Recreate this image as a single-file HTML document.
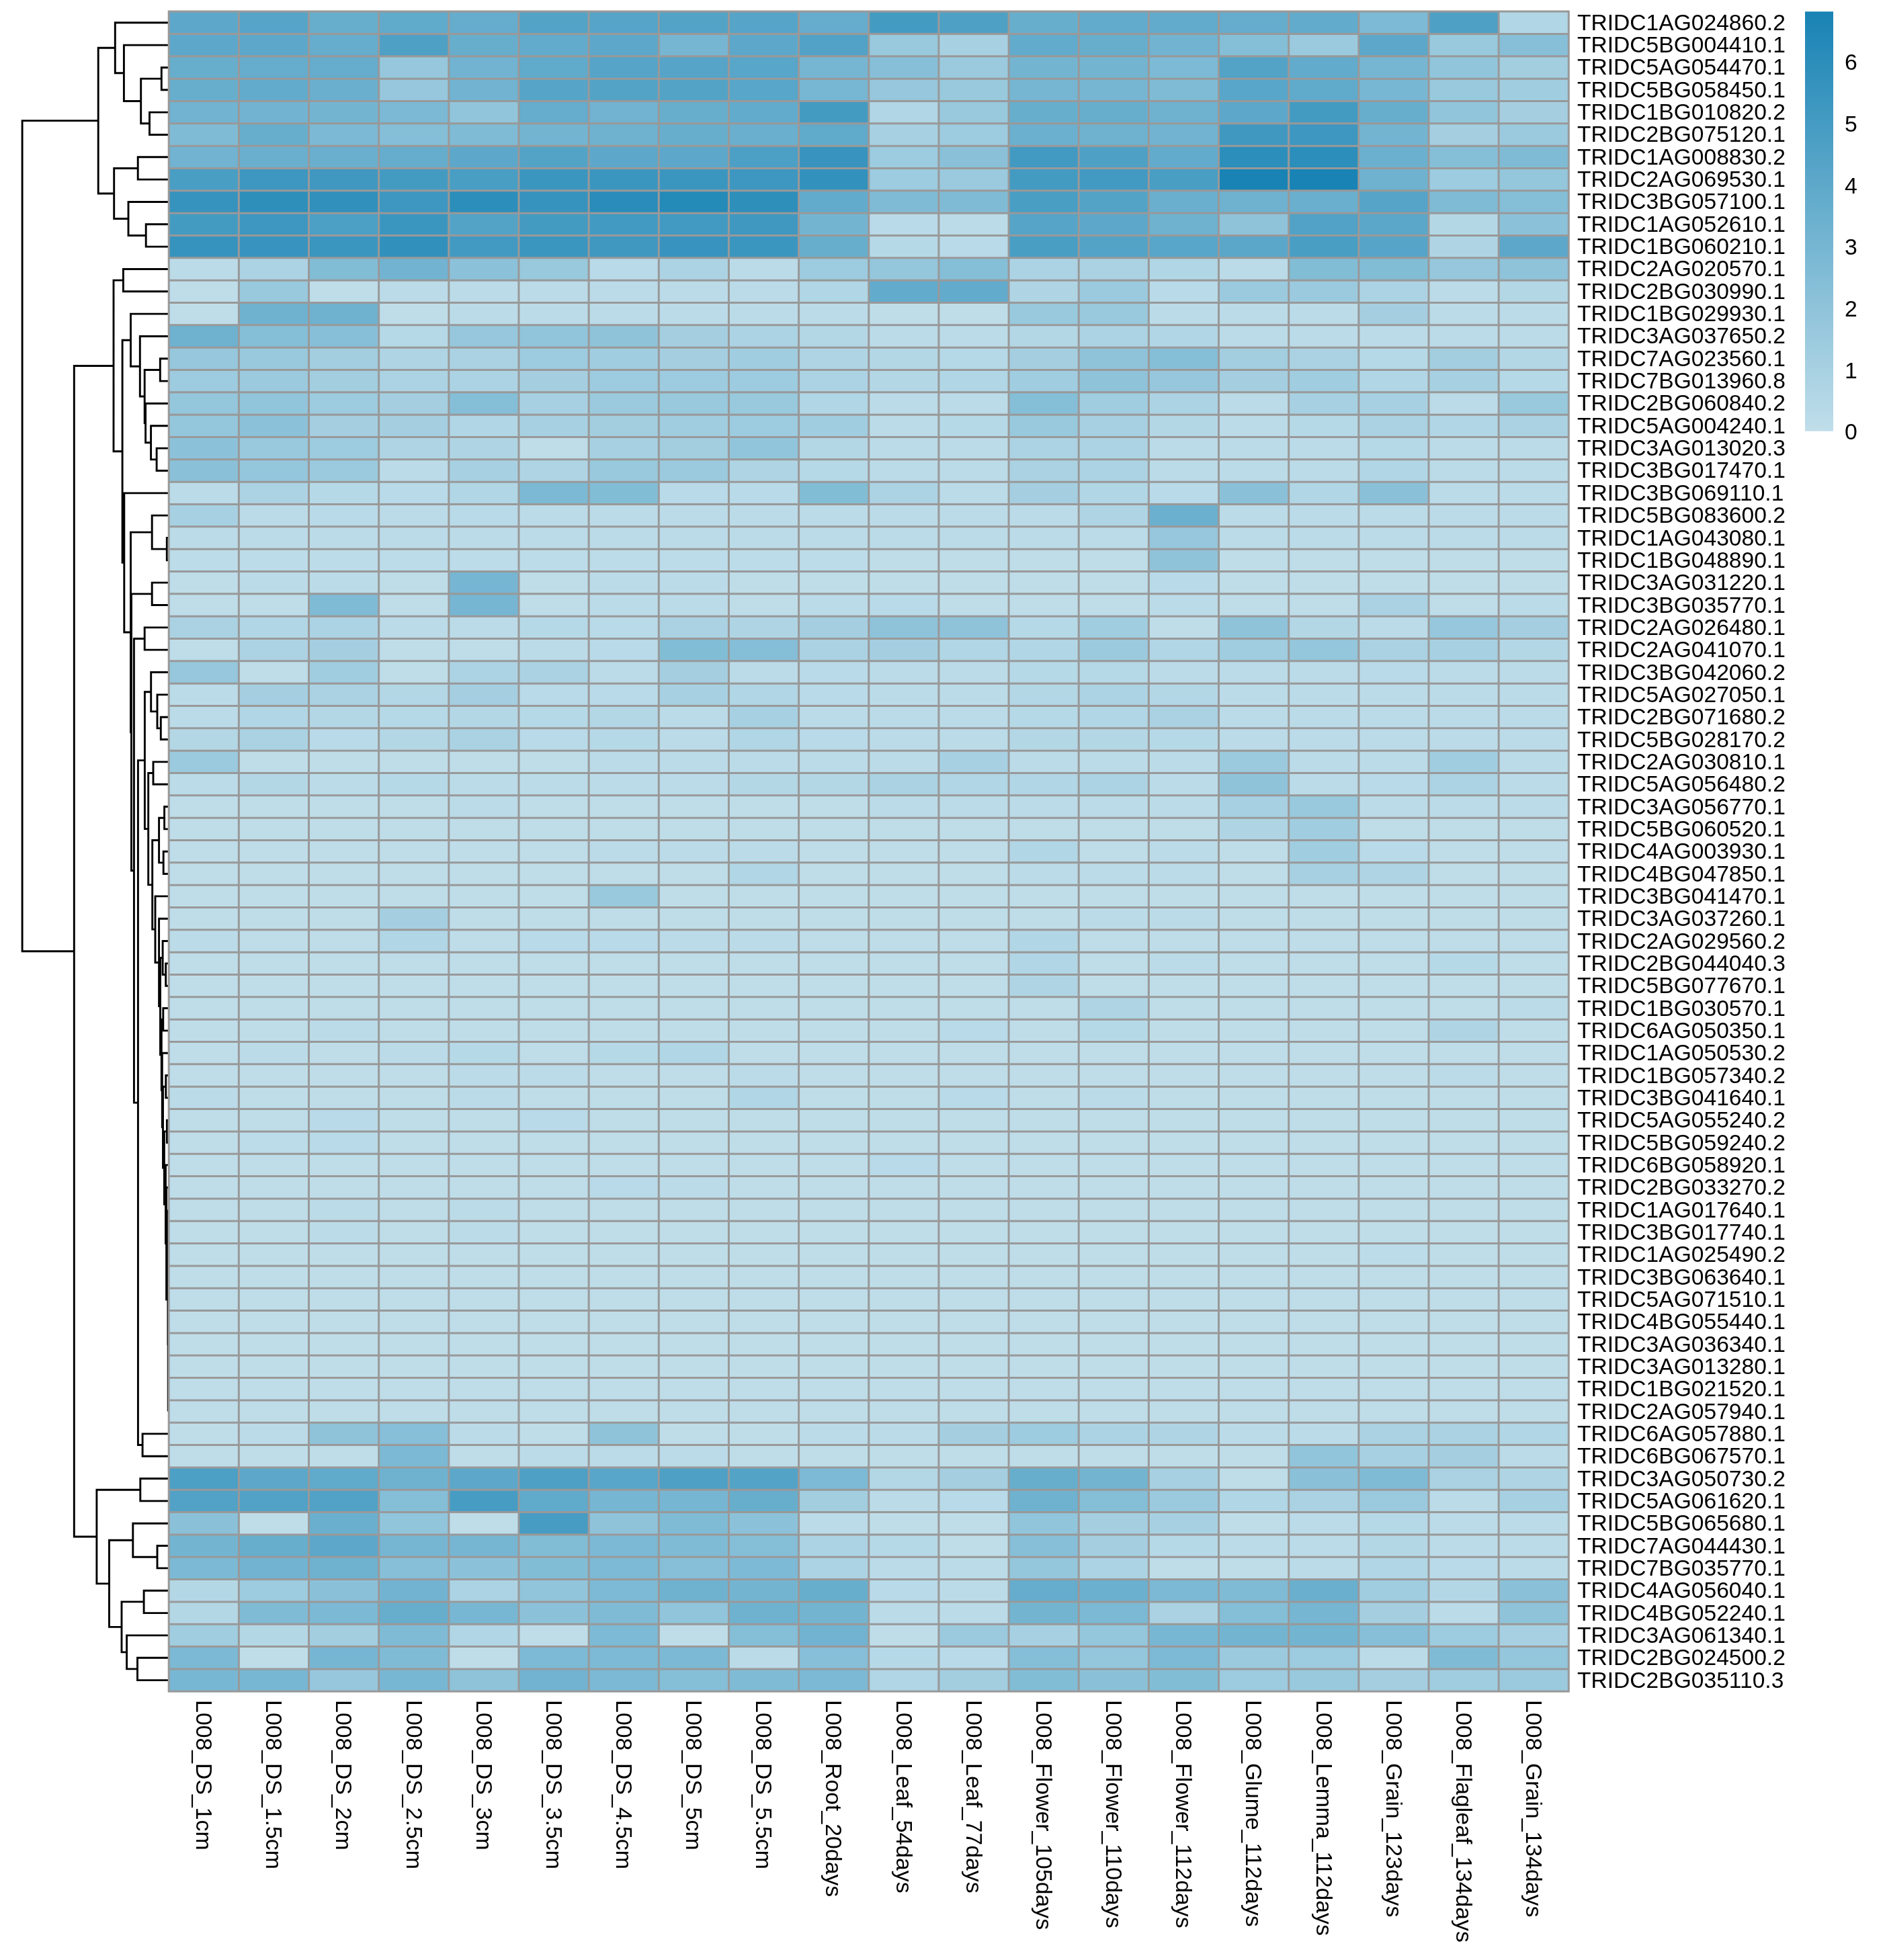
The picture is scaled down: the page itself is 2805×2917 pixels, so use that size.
<!DOCTYPE html><html><head><meta charset="utf-8"><style>html,body{margin:0;padding:0;background:#fff;}svg{display:block;}text{font-family:"Liberation Sans",sans-serif;fill:#000;}svg{will-change:transform;}</style></head><body>
<svg width="2805" height="2917" viewBox="0 0 2805 2917">
<path d="M146.20 179.63H33.10V1415.75H110.30M171.30 71.29H146.20V287.97H169.70M250.00 33.79H171.30V108.80H184.40M250.00 67.13H184.40V150.47H209.70M240.30 117.13H209.70V183.80H222.50M250.00 100.46H240.30V133.80H250.00M250.00 167.13H222.50V200.47H250.00M205.20 250.47H169.70V325.47H191.00M250.00 233.80H205.20V267.14H250.00M250.00 300.47H191.00V350.48H217.20M250.00 333.81H217.20V367.14H250.00M169.00 544.48H110.30V2287.03H143.90M183.40 417.14H169.00V671.81H182.10M250.00 400.48H183.40V433.81H250.00M194.50 506.21H182.10V837.41H184.80M250.00 467.15H194.50V545.28H208.30M250.00 500.48H208.30V590.07H215.20M238.30 550.49H215.20V629.66H216.60M250.00 533.82H238.30V567.15H250.00M250.00 600.49H216.60V658.82H224.60M250.00 633.82H224.60V683.83H233.10M250.00 667.16H233.10V700.49H250.00M250.00 733.83H184.80V940.99H194.50M226.20 792.16H194.50V1089.82H195.50M250.00 767.16H226.20V817.16H248.30M250.00 800.50H248.30V833.83H250.00M226.20 883.84H195.50V1295.81H199.40M250.00 867.17H226.20V900.50H250.00M215.20 950.50H199.40V1641.12H205.40M250.00 933.84H215.20V967.17H250.00M215.40 1131.67H205.40V2150.57H212.10M224.70 1029.68H215.40V1233.67H220.70M250.00 1000.51H224.70V1058.84H234.00M250.00 1033.84H234.00V1083.85H239.30M250.00 1067.18H239.30V1100.51H250.00M228.00 1150.52H220.70V1316.83H226.70M250.00 1133.85H228.00V1167.18H250.00M236.60 1250.52H226.70V1383.14H231.00M244.60 1217.18H236.60V1283.86H243.20M250.00 1200.52H244.60V1233.85H250.00M250.00 1267.19H243.20V1300.52H250.00M250.00 1333.86H231.00V1432.43H236.60M250.00 1367.19H236.60V1497.67H238.50M242.10 1425.53H238.50V1569.81H240.30M250.00 1400.53H242.10V1450.53H246.70M250.00 1433.86H246.70V1467.20H250.00M242.80 1517.20H240.30V1622.42H241.30M250.00 1500.53H242.80V1533.87H250.00M250.00 1567.20H241.30V1677.63H242.50M246.80 1617.20H242.50V1738.06H244.40M250.00 1600.54H246.80V1633.87H250.00M248.40 1683.88H244.40V1792.24H246.50M250.00 1667.21H248.40V1700.54H250.00M250.00 1733.88H246.50V1850.61H247.60M250.00 1767.21H247.60V1934.00H249.90M250.20 1829.72H249.90V2000.56H250.20M250.00 1800.55H250.20V1858.88H250.20M250.00 1833.88H250.20V1883.88H250.20M250.00 1867.22H250.20V1900.55H250.00M250.20 1950.56H250.20V2050.56H250.20M250.00 1933.89H250.20V1967.22H250.00M250.20 2017.23H250.20V2083.89H250.20M250.00 2000.56H250.20V2033.89H250.00M250.00 2067.23H250.20V2100.56H250.00M250.00 2133.90H212.10V2167.23H250.00M208.80 2217.24H143.90V2356.83H162.50M250.00 2200.57H208.80V2233.90H250.00M197.80 2292.24H162.50V2421.41H181.00M250.00 2267.24H197.80V2317.24H234.00M250.00 2300.57H234.00V2333.91H250.00M214.10 2383.91H181.00V2458.91H188.60M250.00 2367.24H214.10V2400.58H250.00M250.00 2433.91H188.60V2483.91H204.50M250.00 2467.25H204.50V2500.58H250.00" stroke="#000" stroke-width="2.9" fill="none" stroke-linejoin="miter" stroke-linecap="butt"/>
<rect x="251.20" y="17.12" width="104.16" height="33.34" fill="#5da8ca"/>
<rect x="355.36" y="17.12" width="104.16" height="33.34" fill="#56a4c8"/>
<rect x="459.51" y="17.12" width="104.16" height="33.34" fill="#67aecd"/>
<rect x="563.66" y="17.12" width="104.16" height="33.34" fill="#60aacb"/>
<rect x="667.82" y="17.12" width="104.16" height="33.34" fill="#65accd"/>
<rect x="771.97" y="17.12" width="104.16" height="33.34" fill="#53a3c7"/>
<rect x="876.13" y="17.12" width="104.16" height="33.34" fill="#56a4c8"/>
<rect x="980.29" y="17.12" width="104.16" height="33.34" fill="#53a3c7"/>
<rect x="1084.44" y="17.12" width="104.16" height="33.34" fill="#56a4c8"/>
<rect x="1188.60" y="17.12" width="104.16" height="33.34" fill="#65accd"/>
<rect x="1292.75" y="17.12" width="104.16" height="33.34" fill="#449bc2"/>
<rect x="1396.90" y="17.12" width="104.16" height="33.34" fill="#4ea0c5"/>
<rect x="1501.06" y="17.12" width="104.16" height="33.34" fill="#67aecd"/>
<rect x="1605.22" y="17.12" width="104.16" height="33.34" fill="#62abcc"/>
<rect x="1709.37" y="17.12" width="104.16" height="33.34" fill="#62abcc"/>
<rect x="1813.53" y="17.12" width="104.16" height="33.34" fill="#65accd"/>
<rect x="1917.68" y="17.12" width="104.16" height="33.34" fill="#62abcc"/>
<rect x="2021.84" y="17.12" width="104.16" height="33.34" fill="#7dbad5"/>
<rect x="2125.99" y="17.12" width="104.16" height="33.34" fill="#4ea0c5"/>
<rect x="2230.14" y="17.12" width="104.16" height="33.34" fill="#b1d6e5"/>
<rect x="251.20" y="50.46" width="104.16" height="33.34" fill="#5da8ca"/>
<rect x="355.36" y="50.46" width="104.16" height="33.34" fill="#5da8ca"/>
<rect x="459.51" y="50.46" width="104.16" height="33.34" fill="#65accd"/>
<rect x="563.66" y="50.46" width="104.16" height="33.34" fill="#4ea0c5"/>
<rect x="667.82" y="50.46" width="104.16" height="33.34" fill="#67aecd"/>
<rect x="771.97" y="50.46" width="104.16" height="33.34" fill="#62abcc"/>
<rect x="876.13" y="50.46" width="104.16" height="33.34" fill="#5da8ca"/>
<rect x="980.29" y="50.46" width="104.16" height="33.34" fill="#76b6d2"/>
<rect x="1084.44" y="50.46" width="104.16" height="33.34" fill="#5da8ca"/>
<rect x="1188.60" y="50.46" width="104.16" height="33.34" fill="#51a2c6"/>
<rect x="1292.75" y="50.46" width="104.16" height="33.34" fill="#98c9dd"/>
<rect x="1396.90" y="50.46" width="104.16" height="33.34" fill="#a7d1e2"/>
<rect x="1501.06" y="50.46" width="104.16" height="33.34" fill="#62abcc"/>
<rect x="1605.22" y="50.46" width="104.16" height="33.34" fill="#67aecd"/>
<rect x="1709.37" y="50.46" width="104.16" height="33.34" fill="#71b3d1"/>
<rect x="1813.53" y="50.46" width="104.16" height="33.34" fill="#85bed7"/>
<rect x="1917.68" y="50.46" width="104.16" height="33.34" fill="#9bcade"/>
<rect x="2021.84" y="50.46" width="104.16" height="33.34" fill="#5da8ca"/>
<rect x="2125.99" y="50.46" width="104.16" height="33.34" fill="#98c9dd"/>
<rect x="2230.14" y="50.46" width="104.16" height="33.34" fill="#87bfd8"/>
<rect x="251.20" y="83.80" width="104.16" height="33.34" fill="#67aecd"/>
<rect x="355.36" y="83.80" width="104.16" height="33.34" fill="#65accd"/>
<rect x="459.51" y="83.80" width="104.16" height="33.34" fill="#65accd"/>
<rect x="563.66" y="83.80" width="104.16" height="33.34" fill="#96c7dc"/>
<rect x="667.82" y="83.80" width="104.16" height="33.34" fill="#71b3d1"/>
<rect x="771.97" y="83.80" width="104.16" height="33.34" fill="#60aacb"/>
<rect x="876.13" y="83.80" width="104.16" height="33.34" fill="#56a4c8"/>
<rect x="980.29" y="83.80" width="104.16" height="33.34" fill="#56a4c8"/>
<rect x="1084.44" y="83.80" width="104.16" height="33.34" fill="#58a6c9"/>
<rect x="1188.60" y="83.80" width="104.16" height="33.34" fill="#76b6d2"/>
<rect x="1292.75" y="83.80" width="104.16" height="33.34" fill="#87bfd8"/>
<rect x="1396.90" y="83.80" width="104.16" height="33.34" fill="#9bcade"/>
<rect x="1501.06" y="83.80" width="104.16" height="33.34" fill="#73b5d1"/>
<rect x="1605.22" y="83.80" width="104.16" height="33.34" fill="#73b5d1"/>
<rect x="1709.37" y="83.80" width="104.16" height="33.34" fill="#7dbad5"/>
<rect x="1813.53" y="83.80" width="104.16" height="33.34" fill="#53a3c7"/>
<rect x="1917.68" y="83.80" width="104.16" height="33.34" fill="#62abcc"/>
<rect x="2021.84" y="83.80" width="104.16" height="33.34" fill="#76b6d2"/>
<rect x="2125.99" y="83.80" width="104.16" height="33.34" fill="#91c5db"/>
<rect x="2230.14" y="83.80" width="104.16" height="33.34" fill="#a2cee0"/>
<rect x="251.20" y="117.13" width="104.16" height="33.34" fill="#67aecd"/>
<rect x="355.36" y="117.13" width="104.16" height="33.34" fill="#62abcc"/>
<rect x="459.51" y="117.13" width="104.16" height="33.34" fill="#6aafce"/>
<rect x="563.66" y="117.13" width="104.16" height="33.34" fill="#96c7dc"/>
<rect x="667.82" y="117.13" width="104.16" height="33.34" fill="#71b3d1"/>
<rect x="771.97" y="117.13" width="104.16" height="33.34" fill="#56a4c8"/>
<rect x="876.13" y="117.13" width="104.16" height="33.34" fill="#53a3c7"/>
<rect x="980.29" y="117.13" width="104.16" height="33.34" fill="#53a3c7"/>
<rect x="1084.44" y="117.13" width="104.16" height="33.34" fill="#58a6c9"/>
<rect x="1188.60" y="117.13" width="104.16" height="33.34" fill="#78b7d3"/>
<rect x="1292.75" y="117.13" width="104.16" height="33.34" fill="#96c7dc"/>
<rect x="1396.90" y="117.13" width="104.16" height="33.34" fill="#98c9dd"/>
<rect x="1501.06" y="117.13" width="104.16" height="33.34" fill="#76b6d2"/>
<rect x="1605.22" y="117.13" width="104.16" height="33.34" fill="#76b6d2"/>
<rect x="1709.37" y="117.13" width="104.16" height="33.34" fill="#80bbd5"/>
<rect x="1813.53" y="117.13" width="104.16" height="33.34" fill="#58a6c9"/>
<rect x="1917.68" y="117.13" width="104.16" height="33.34" fill="#60aacb"/>
<rect x="2021.84" y="117.13" width="104.16" height="33.34" fill="#78b7d3"/>
<rect x="2125.99" y="117.13" width="104.16" height="33.34" fill="#98c9dd"/>
<rect x="2230.14" y="117.13" width="104.16" height="33.34" fill="#a0cde0"/>
<rect x="251.20" y="150.47" width="104.16" height="33.34" fill="#71b3d1"/>
<rect x="355.36" y="150.47" width="104.16" height="33.34" fill="#71b3d1"/>
<rect x="459.51" y="150.47" width="104.16" height="33.34" fill="#73b5d1"/>
<rect x="563.66" y="150.47" width="104.16" height="33.34" fill="#7bb9d4"/>
<rect x="667.82" y="150.47" width="104.16" height="33.34" fill="#91c5db"/>
<rect x="771.97" y="150.47" width="104.16" height="33.34" fill="#65accd"/>
<rect x="876.13" y="150.47" width="104.16" height="33.34" fill="#71b3d1"/>
<rect x="980.29" y="150.47" width="104.16" height="33.34" fill="#67aecd"/>
<rect x="1084.44" y="150.47" width="104.16" height="33.34" fill="#62abcc"/>
<rect x="1188.60" y="150.47" width="104.16" height="33.34" fill="#449bc2"/>
<rect x="1292.75" y="150.47" width="104.16" height="33.34" fill="#b1d6e5"/>
<rect x="1396.90" y="150.47" width="104.16" height="33.34" fill="#98c9dd"/>
<rect x="1501.06" y="150.47" width="104.16" height="33.34" fill="#67aecd"/>
<rect x="1605.22" y="150.47" width="104.16" height="33.34" fill="#67aecd"/>
<rect x="1709.37" y="150.47" width="104.16" height="33.34" fill="#6eb2d0"/>
<rect x="1813.53" y="150.47" width="104.16" height="33.34" fill="#5da8ca"/>
<rect x="1917.68" y="150.47" width="104.16" height="33.34" fill="#449bc2"/>
<rect x="2021.84" y="150.47" width="104.16" height="33.34" fill="#67aecd"/>
<rect x="2125.99" y="150.47" width="104.16" height="33.34" fill="#91c5db"/>
<rect x="2230.14" y="150.47" width="104.16" height="33.34" fill="#a5cfe1"/>
<rect x="251.20" y="183.80" width="104.16" height="33.34" fill="#80bbd5"/>
<rect x="355.36" y="183.80" width="104.16" height="33.34" fill="#67aecd"/>
<rect x="459.51" y="183.80" width="104.16" height="33.34" fill="#7bb9d4"/>
<rect x="563.66" y="183.80" width="104.16" height="33.34" fill="#85bed7"/>
<rect x="667.82" y="183.80" width="104.16" height="33.34" fill="#80bbd5"/>
<rect x="771.97" y="183.80" width="104.16" height="33.34" fill="#73b5d1"/>
<rect x="876.13" y="183.80" width="104.16" height="33.34" fill="#6eb2d0"/>
<rect x="980.29" y="183.80" width="104.16" height="33.34" fill="#67aecd"/>
<rect x="1084.44" y="183.80" width="104.16" height="33.34" fill="#6aafce"/>
<rect x="1188.60" y="183.80" width="104.16" height="33.34" fill="#60aacb"/>
<rect x="1292.75" y="183.80" width="104.16" height="33.34" fill="#a7d1e2"/>
<rect x="1396.90" y="183.80" width="104.16" height="33.34" fill="#9dcbdf"/>
<rect x="1501.06" y="183.80" width="104.16" height="33.34" fill="#6cb0cf"/>
<rect x="1605.22" y="183.80" width="104.16" height="33.34" fill="#6eb2d0"/>
<rect x="1709.37" y="183.80" width="104.16" height="33.34" fill="#71b3d1"/>
<rect x="1813.53" y="183.80" width="104.16" height="33.34" fill="#4098c1"/>
<rect x="1917.68" y="183.80" width="104.16" height="33.34" fill="#3d97c0"/>
<rect x="2021.84" y="183.80" width="104.16" height="33.34" fill="#73b5d1"/>
<rect x="2125.99" y="183.80" width="104.16" height="33.34" fill="#a5cfe1"/>
<rect x="2230.14" y="183.80" width="104.16" height="33.34" fill="#9bcade"/>
<rect x="251.20" y="217.13" width="104.16" height="33.34" fill="#71b3d1"/>
<rect x="355.36" y="217.13" width="104.16" height="33.34" fill="#6aafce"/>
<rect x="459.51" y="217.13" width="104.16" height="33.34" fill="#6aafce"/>
<rect x="563.66" y="217.13" width="104.16" height="33.34" fill="#65accd"/>
<rect x="667.82" y="217.13" width="104.16" height="33.34" fill="#5da8ca"/>
<rect x="771.97" y="217.13" width="104.16" height="33.34" fill="#53a3c7"/>
<rect x="876.13" y="217.13" width="104.16" height="33.34" fill="#5da8ca"/>
<rect x="980.29" y="217.13" width="104.16" height="33.34" fill="#5da8ca"/>
<rect x="1084.44" y="217.13" width="104.16" height="33.34" fill="#4c9fc5"/>
<rect x="1188.60" y="217.13" width="104.16" height="33.34" fill="#3894be"/>
<rect x="1292.75" y="217.13" width="104.16" height="33.34" fill="#9dcbdf"/>
<rect x="1396.90" y="217.13" width="104.16" height="33.34" fill="#8ac1d9"/>
<rect x="1501.06" y="217.13" width="104.16" height="33.34" fill="#429ac2"/>
<rect x="1605.22" y="217.13" width="104.16" height="33.34" fill="#4ea0c5"/>
<rect x="1709.37" y="217.13" width="104.16" height="33.34" fill="#62abcc"/>
<rect x="1813.53" y="217.13" width="104.16" height="33.34" fill="#2c8eba"/>
<rect x="1917.68" y="217.13" width="104.16" height="33.34" fill="#2c8eba"/>
<rect x="2021.84" y="217.13" width="104.16" height="33.34" fill="#6cb0cf"/>
<rect x="2125.99" y="217.13" width="104.16" height="33.34" fill="#85bed7"/>
<rect x="2230.14" y="217.13" width="104.16" height="33.34" fill="#80bbd5"/>
<rect x="251.20" y="250.47" width="104.16" height="33.34" fill="#499ec4"/>
<rect x="355.36" y="250.47" width="104.16" height="33.34" fill="#3d97c0"/>
<rect x="459.51" y="250.47" width="104.16" height="33.34" fill="#4098c1"/>
<rect x="563.66" y="250.47" width="104.16" height="33.34" fill="#449bc2"/>
<rect x="667.82" y="250.47" width="104.16" height="33.34" fill="#499ec4"/>
<rect x="771.97" y="250.47" width="104.16" height="33.34" fill="#3b96bf"/>
<rect x="876.13" y="250.47" width="104.16" height="33.34" fill="#3b96bf"/>
<rect x="980.29" y="250.47" width="104.16" height="33.34" fill="#3b96bf"/>
<rect x="1084.44" y="250.47" width="104.16" height="33.34" fill="#3d97c0"/>
<rect x="1188.60" y="250.47" width="104.16" height="33.34" fill="#3392bd"/>
<rect x="1292.75" y="250.47" width="104.16" height="33.34" fill="#9dcbdf"/>
<rect x="1396.90" y="250.47" width="104.16" height="33.34" fill="#9bcade"/>
<rect x="1501.06" y="250.47" width="104.16" height="33.34" fill="#449bc2"/>
<rect x="1605.22" y="250.47" width="104.16" height="33.34" fill="#429ac2"/>
<rect x="1709.37" y="250.47" width="104.16" height="33.34" fill="#499ec4"/>
<rect x="1813.53" y="250.47" width="104.16" height="33.34" fill="#1883b4"/>
<rect x="1917.68" y="250.47" width="104.16" height="33.34" fill="#1883b4"/>
<rect x="2021.84" y="250.47" width="104.16" height="33.34" fill="#6eb2d0"/>
<rect x="2125.99" y="250.47" width="104.16" height="33.34" fill="#9dcbdf"/>
<rect x="2230.14" y="250.47" width="104.16" height="33.34" fill="#94c6dc"/>
<rect x="251.20" y="283.81" width="104.16" height="33.34" fill="#3693be"/>
<rect x="355.36" y="283.81" width="104.16" height="33.34" fill="#2e8fbb"/>
<rect x="459.51" y="283.81" width="104.16" height="33.34" fill="#3190bc"/>
<rect x="563.66" y="283.81" width="104.16" height="33.34" fill="#3d97c0"/>
<rect x="667.82" y="283.81" width="104.16" height="33.34" fill="#2c8eba"/>
<rect x="771.97" y="283.81" width="104.16" height="33.34" fill="#3693be"/>
<rect x="876.13" y="283.81" width="104.16" height="33.34" fill="#298cba"/>
<rect x="980.29" y="283.81" width="104.16" height="33.34" fill="#248ab8"/>
<rect x="1084.44" y="283.81" width="104.16" height="33.34" fill="#2e8fbb"/>
<rect x="1188.60" y="283.81" width="104.16" height="33.34" fill="#62abcc"/>
<rect x="1292.75" y="283.81" width="104.16" height="33.34" fill="#80bbd5"/>
<rect x="1396.90" y="283.81" width="104.16" height="33.34" fill="#80bbd5"/>
<rect x="1501.06" y="283.81" width="104.16" height="33.34" fill="#499ec4"/>
<rect x="1605.22" y="283.81" width="104.16" height="33.34" fill="#53a3c7"/>
<rect x="1709.37" y="283.81" width="104.16" height="33.34" fill="#6aafce"/>
<rect x="1813.53" y="283.81" width="104.16" height="33.34" fill="#6eb2d0"/>
<rect x="1917.68" y="283.81" width="104.16" height="33.34" fill="#6aafce"/>
<rect x="2021.84" y="283.81" width="104.16" height="33.34" fill="#56a4c8"/>
<rect x="2125.99" y="283.81" width="104.16" height="33.34" fill="#80bbd5"/>
<rect x="2230.14" y="283.81" width="104.16" height="33.34" fill="#85bed7"/>
<rect x="251.20" y="317.14" width="104.16" height="33.34" fill="#449bc2"/>
<rect x="355.36" y="317.14" width="104.16" height="33.34" fill="#3d97c0"/>
<rect x="459.51" y="317.14" width="104.16" height="33.34" fill="#4c9fc5"/>
<rect x="563.66" y="317.14" width="104.16" height="33.34" fill="#3b96bf"/>
<rect x="667.82" y="317.14" width="104.16" height="33.34" fill="#53a3c7"/>
<rect x="771.97" y="317.14" width="104.16" height="33.34" fill="#449bc2"/>
<rect x="876.13" y="317.14" width="104.16" height="33.34" fill="#429ac2"/>
<rect x="980.29" y="317.14" width="104.16" height="33.34" fill="#429ac2"/>
<rect x="1084.44" y="317.14" width="104.16" height="33.34" fill="#4098c1"/>
<rect x="1188.60" y="317.14" width="104.16" height="33.34" fill="#73b5d1"/>
<rect x="1292.75" y="317.14" width="104.16" height="33.34" fill="#b9dae8"/>
<rect x="1396.90" y="317.14" width="104.16" height="33.34" fill="#bbdbe8"/>
<rect x="1501.06" y="317.14" width="104.16" height="33.34" fill="#56a4c8"/>
<rect x="1605.22" y="317.14" width="104.16" height="33.34" fill="#5da8ca"/>
<rect x="1709.37" y="317.14" width="104.16" height="33.34" fill="#6eb2d0"/>
<rect x="1813.53" y="317.14" width="104.16" height="33.34" fill="#8fc3da"/>
<rect x="1917.68" y="317.14" width="104.16" height="33.34" fill="#51a2c6"/>
<rect x="2021.84" y="317.14" width="104.16" height="33.34" fill="#5ba7c9"/>
<rect x="2125.99" y="317.14" width="104.16" height="33.34" fill="#b4d7e6"/>
<rect x="2230.14" y="317.14" width="104.16" height="33.34" fill="#8cc2d9"/>
<rect x="251.20" y="350.48" width="104.16" height="33.34" fill="#3693be"/>
<rect x="355.36" y="350.48" width="104.16" height="33.34" fill="#3894be"/>
<rect x="459.51" y="350.48" width="104.16" height="33.34" fill="#3b96bf"/>
<rect x="563.66" y="350.48" width="104.16" height="33.34" fill="#3190bc"/>
<rect x="667.82" y="350.48" width="104.16" height="33.34" fill="#429ac2"/>
<rect x="771.97" y="350.48" width="104.16" height="33.34" fill="#3b96bf"/>
<rect x="876.13" y="350.48" width="104.16" height="33.34" fill="#4098c1"/>
<rect x="980.29" y="350.48" width="104.16" height="33.34" fill="#3894be"/>
<rect x="1084.44" y="350.48" width="104.16" height="33.34" fill="#3b96bf"/>
<rect x="1188.60" y="350.48" width="104.16" height="33.34" fill="#67aecd"/>
<rect x="1292.75" y="350.48" width="104.16" height="33.34" fill="#b6d9e7"/>
<rect x="1396.90" y="350.48" width="104.16" height="33.34" fill="#b9dae8"/>
<rect x="1501.06" y="350.48" width="104.16" height="33.34" fill="#499ec4"/>
<rect x="1605.22" y="350.48" width="104.16" height="33.34" fill="#53a3c7"/>
<rect x="1709.37" y="350.48" width="104.16" height="33.34" fill="#58a6c9"/>
<rect x="1813.53" y="350.48" width="104.16" height="33.34" fill="#5ba7c9"/>
<rect x="1917.68" y="350.48" width="104.16" height="33.34" fill="#499ec4"/>
<rect x="2021.84" y="350.48" width="104.16" height="33.34" fill="#56a4c8"/>
<rect x="2125.99" y="350.48" width="104.16" height="33.34" fill="#afd5e4"/>
<rect x="2230.14" y="350.48" width="104.16" height="33.34" fill="#5da8ca"/>
<rect x="251.20" y="383.81" width="104.16" height="33.34" fill="#bbdbe8"/>
<rect x="355.36" y="383.81" width="104.16" height="33.34" fill="#acd3e4"/>
<rect x="459.51" y="383.81" width="104.16" height="33.34" fill="#82bdd6"/>
<rect x="563.66" y="383.81" width="104.16" height="33.34" fill="#71b3d1"/>
<rect x="667.82" y="383.81" width="104.16" height="33.34" fill="#8cc2d9"/>
<rect x="771.97" y="383.81" width="104.16" height="33.34" fill="#98c9dd"/>
<rect x="876.13" y="383.81" width="104.16" height="33.34" fill="#b9dae8"/>
<rect x="980.29" y="383.81" width="104.16" height="33.34" fill="#acd3e4"/>
<rect x="1084.44" y="383.81" width="104.16" height="33.34" fill="#bbdbe8"/>
<rect x="1188.60" y="383.81" width="104.16" height="33.34" fill="#9dcbdf"/>
<rect x="1292.75" y="383.81" width="104.16" height="33.34" fill="#94c6dc"/>
<rect x="1396.90" y="383.81" width="104.16" height="33.34" fill="#85bed7"/>
<rect x="1501.06" y="383.81" width="104.16" height="33.34" fill="#acd3e4"/>
<rect x="1605.22" y="383.81" width="104.16" height="33.34" fill="#aad2e3"/>
<rect x="1709.37" y="383.81" width="104.16" height="33.34" fill="#b1d6e5"/>
<rect x="1813.53" y="383.81" width="104.16" height="33.34" fill="#bbdbe8"/>
<rect x="1917.68" y="383.81" width="104.16" height="33.34" fill="#82bdd6"/>
<rect x="2021.84" y="383.81" width="104.16" height="33.34" fill="#82bdd6"/>
<rect x="2125.99" y="383.81" width="104.16" height="33.34" fill="#96c7dc"/>
<rect x="2230.14" y="383.81" width="104.16" height="33.34" fill="#8fc3da"/>
<rect x="251.20" y="417.14" width="104.16" height="33.34" fill="#bedde9"/>
<rect x="355.36" y="417.14" width="104.16" height="33.34" fill="#98c9dd"/>
<rect x="459.51" y="417.14" width="104.16" height="33.34" fill="#bedde9"/>
<rect x="563.66" y="417.14" width="104.16" height="33.34" fill="#bbdbe8"/>
<rect x="667.82" y="417.14" width="104.16" height="33.34" fill="#bbdbe8"/>
<rect x="771.97" y="417.14" width="104.16" height="33.34" fill="#bbdbe8"/>
<rect x="876.13" y="417.14" width="104.16" height="33.34" fill="#bbdbe8"/>
<rect x="980.29" y="417.14" width="104.16" height="33.34" fill="#bbdbe8"/>
<rect x="1084.44" y="417.14" width="104.16" height="33.34" fill="#bbdbe8"/>
<rect x="1188.60" y="417.14" width="104.16" height="33.34" fill="#b1d6e5"/>
<rect x="1292.75" y="417.14" width="104.16" height="33.34" fill="#62abcc"/>
<rect x="1396.90" y="417.14" width="104.16" height="33.34" fill="#62abcc"/>
<rect x="1501.06" y="417.14" width="104.16" height="33.34" fill="#afd5e4"/>
<rect x="1605.22" y="417.14" width="104.16" height="33.34" fill="#9bcade"/>
<rect x="1709.37" y="417.14" width="104.16" height="33.34" fill="#b9dae8"/>
<rect x="1813.53" y="417.14" width="104.16" height="33.34" fill="#9bcade"/>
<rect x="1917.68" y="417.14" width="104.16" height="33.34" fill="#9bcade"/>
<rect x="2021.84" y="417.14" width="104.16" height="33.34" fill="#acd3e4"/>
<rect x="2125.99" y="417.14" width="104.16" height="33.34" fill="#bbdbe8"/>
<rect x="2230.14" y="417.14" width="104.16" height="33.34" fill="#b4d7e6"/>
<rect x="251.20" y="450.48" width="104.16" height="33.34" fill="#bedde9"/>
<rect x="355.36" y="450.48" width="104.16" height="33.34" fill="#6eb2d0"/>
<rect x="459.51" y="450.48" width="104.16" height="33.34" fill="#6eb2d0"/>
<rect x="563.66" y="450.48" width="104.16" height="33.34" fill="#bedde9"/>
<rect x="667.82" y="450.48" width="104.16" height="33.34" fill="#bbdbe8"/>
<rect x="771.97" y="450.48" width="104.16" height="33.34" fill="#bbdbe8"/>
<rect x="876.13" y="450.48" width="104.16" height="33.34" fill="#bbdbe8"/>
<rect x="980.29" y="450.48" width="104.16" height="33.34" fill="#bbdbe8"/>
<rect x="1084.44" y="450.48" width="104.16" height="33.34" fill="#bbdbe8"/>
<rect x="1188.60" y="450.48" width="104.16" height="33.34" fill="#bbdbe8"/>
<rect x="1292.75" y="450.48" width="104.16" height="33.34" fill="#bedde9"/>
<rect x="1396.90" y="450.48" width="104.16" height="33.34" fill="#bedde9"/>
<rect x="1501.06" y="450.48" width="104.16" height="33.34" fill="#98c9dd"/>
<rect x="1605.22" y="450.48" width="104.16" height="33.34" fill="#98c9dd"/>
<rect x="1709.37" y="450.48" width="104.16" height="33.34" fill="#bbdbe8"/>
<rect x="1813.53" y="450.48" width="104.16" height="33.34" fill="#bbdbe8"/>
<rect x="1917.68" y="450.48" width="104.16" height="33.34" fill="#bbdbe8"/>
<rect x="2021.84" y="450.48" width="104.16" height="33.34" fill="#a5cfe1"/>
<rect x="2125.99" y="450.48" width="104.16" height="33.34" fill="#bbdbe8"/>
<rect x="2230.14" y="450.48" width="104.16" height="33.34" fill="#bbdbe8"/>
<rect x="251.20" y="483.81" width="104.16" height="33.34" fill="#6eb2d0"/>
<rect x="355.36" y="483.81" width="104.16" height="33.34" fill="#85bed7"/>
<rect x="459.51" y="483.81" width="104.16" height="33.34" fill="#87bfd8"/>
<rect x="563.66" y="483.81" width="104.16" height="33.34" fill="#b6d9e7"/>
<rect x="667.82" y="483.81" width="104.16" height="33.34" fill="#96c7dc"/>
<rect x="771.97" y="483.81" width="104.16" height="33.34" fill="#91c5db"/>
<rect x="876.13" y="483.81" width="104.16" height="33.34" fill="#8fc3da"/>
<rect x="980.29" y="483.81" width="104.16" height="33.34" fill="#a5cfe1"/>
<rect x="1084.44" y="483.81" width="104.16" height="33.34" fill="#acd3e4"/>
<rect x="1188.60" y="483.81" width="104.16" height="33.34" fill="#b4d7e6"/>
<rect x="1292.75" y="483.81" width="104.16" height="33.34" fill="#bbdbe8"/>
<rect x="1396.90" y="483.81" width="104.16" height="33.34" fill="#bbdbe8"/>
<rect x="1501.06" y="483.81" width="104.16" height="33.34" fill="#b4d7e6"/>
<rect x="1605.22" y="483.81" width="104.16" height="33.34" fill="#acd3e4"/>
<rect x="1709.37" y="483.81" width="104.16" height="33.34" fill="#b1d6e5"/>
<rect x="1813.53" y="483.81" width="104.16" height="33.34" fill="#bbdbe8"/>
<rect x="1917.68" y="483.81" width="104.16" height="33.34" fill="#bbdbe8"/>
<rect x="2021.84" y="483.81" width="104.16" height="33.34" fill="#bbdbe8"/>
<rect x="2125.99" y="483.81" width="104.16" height="33.34" fill="#bbdbe8"/>
<rect x="2230.14" y="483.81" width="104.16" height="33.34" fill="#bbdbe8"/>
<rect x="251.20" y="517.15" width="104.16" height="33.34" fill="#96c7dc"/>
<rect x="355.36" y="517.15" width="104.16" height="33.34" fill="#98c9dd"/>
<rect x="459.51" y="517.15" width="104.16" height="33.34" fill="#a2cee0"/>
<rect x="563.66" y="517.15" width="104.16" height="33.34" fill="#afd5e4"/>
<rect x="667.82" y="517.15" width="104.16" height="33.34" fill="#aad2e3"/>
<rect x="771.97" y="517.15" width="104.16" height="33.34" fill="#9dcbdf"/>
<rect x="876.13" y="517.15" width="104.16" height="33.34" fill="#a0cde0"/>
<rect x="980.29" y="517.15" width="104.16" height="33.34" fill="#a5cfe1"/>
<rect x="1084.44" y="517.15" width="104.16" height="33.34" fill="#a0cde0"/>
<rect x="1188.60" y="517.15" width="104.16" height="33.34" fill="#afd5e4"/>
<rect x="1292.75" y="517.15" width="104.16" height="33.34" fill="#b4d7e6"/>
<rect x="1396.90" y="517.15" width="104.16" height="33.34" fill="#b6d9e7"/>
<rect x="1501.06" y="517.15" width="104.16" height="33.34" fill="#a5cfe1"/>
<rect x="1605.22" y="517.15" width="104.16" height="33.34" fill="#8fc3da"/>
<rect x="1709.37" y="517.15" width="104.16" height="33.34" fill="#85bed7"/>
<rect x="1813.53" y="517.15" width="104.16" height="33.34" fill="#a2cee0"/>
<rect x="1917.68" y="517.15" width="104.16" height="33.34" fill="#aad2e3"/>
<rect x="2021.84" y="517.15" width="104.16" height="33.34" fill="#b6d9e7"/>
<rect x="2125.99" y="517.15" width="104.16" height="33.34" fill="#a2cee0"/>
<rect x="2230.14" y="517.15" width="104.16" height="33.34" fill="#b4d7e6"/>
<rect x="251.20" y="550.49" width="104.16" height="33.34" fill="#9dcbdf"/>
<rect x="355.36" y="550.49" width="104.16" height="33.34" fill="#9bcade"/>
<rect x="459.51" y="550.49" width="104.16" height="33.34" fill="#a2cee0"/>
<rect x="563.66" y="550.49" width="104.16" height="33.34" fill="#acd3e4"/>
<rect x="667.82" y="550.49" width="104.16" height="33.34" fill="#acd3e4"/>
<rect x="771.97" y="550.49" width="104.16" height="33.34" fill="#a5cfe1"/>
<rect x="876.13" y="550.49" width="104.16" height="33.34" fill="#9dcbdf"/>
<rect x="980.29" y="550.49" width="104.16" height="33.34" fill="#9dcbdf"/>
<rect x="1084.44" y="550.49" width="104.16" height="33.34" fill="#9dcbdf"/>
<rect x="1188.60" y="550.49" width="104.16" height="33.34" fill="#acd3e4"/>
<rect x="1292.75" y="550.49" width="104.16" height="33.34" fill="#b4d7e6"/>
<rect x="1396.90" y="550.49" width="104.16" height="33.34" fill="#b1d6e5"/>
<rect x="1501.06" y="550.49" width="104.16" height="33.34" fill="#a0cde0"/>
<rect x="1605.22" y="550.49" width="104.16" height="33.34" fill="#8fc3da"/>
<rect x="1709.37" y="550.49" width="104.16" height="33.34" fill="#96c7dc"/>
<rect x="1813.53" y="550.49" width="104.16" height="33.34" fill="#a5cfe1"/>
<rect x="1917.68" y="550.49" width="104.16" height="33.34" fill="#a0cde0"/>
<rect x="2021.84" y="550.49" width="104.16" height="33.34" fill="#b1d6e5"/>
<rect x="2125.99" y="550.49" width="104.16" height="33.34" fill="#a7d1e2"/>
<rect x="2230.14" y="550.49" width="104.16" height="33.34" fill="#b6d9e7"/>
<rect x="251.20" y="583.82" width="104.16" height="33.34" fill="#94c6dc"/>
<rect x="355.36" y="583.82" width="104.16" height="33.34" fill="#91c5db"/>
<rect x="459.51" y="583.82" width="104.16" height="33.34" fill="#9dcbdf"/>
<rect x="563.66" y="583.82" width="104.16" height="33.34" fill="#a5cfe1"/>
<rect x="667.82" y="583.82" width="104.16" height="33.34" fill="#85bed7"/>
<rect x="771.97" y="583.82" width="104.16" height="33.34" fill="#a7d1e2"/>
<rect x="876.13" y="583.82" width="104.16" height="33.34" fill="#9bcade"/>
<rect x="980.29" y="583.82" width="104.16" height="33.34" fill="#98c9dd"/>
<rect x="1084.44" y="583.82" width="104.16" height="33.34" fill="#98c9dd"/>
<rect x="1188.60" y="583.82" width="104.16" height="33.34" fill="#b1d6e5"/>
<rect x="1292.75" y="583.82" width="104.16" height="33.34" fill="#bbdbe8"/>
<rect x="1396.90" y="583.82" width="104.16" height="33.34" fill="#bbdbe8"/>
<rect x="1501.06" y="583.82" width="104.16" height="33.34" fill="#85bed7"/>
<rect x="1605.22" y="583.82" width="104.16" height="33.34" fill="#a0cde0"/>
<rect x="1709.37" y="583.82" width="104.16" height="33.34" fill="#acd3e4"/>
<rect x="1813.53" y="583.82" width="104.16" height="33.34" fill="#bbdbe8"/>
<rect x="1917.68" y="583.82" width="104.16" height="33.34" fill="#a7d1e2"/>
<rect x="2021.84" y="583.82" width="104.16" height="33.34" fill="#a7d1e2"/>
<rect x="2125.99" y="583.82" width="104.16" height="33.34" fill="#bbdbe8"/>
<rect x="2230.14" y="583.82" width="104.16" height="33.34" fill="#98c9dd"/>
<rect x="251.20" y="617.15" width="104.16" height="33.34" fill="#94c6dc"/>
<rect x="355.36" y="617.15" width="104.16" height="33.34" fill="#8cc2d9"/>
<rect x="459.51" y="617.15" width="104.16" height="33.34" fill="#a5cfe1"/>
<rect x="563.66" y="617.15" width="104.16" height="33.34" fill="#a5cfe1"/>
<rect x="667.82" y="617.15" width="104.16" height="33.34" fill="#b1d6e5"/>
<rect x="771.97" y="617.15" width="104.16" height="33.34" fill="#a7d1e2"/>
<rect x="876.13" y="617.15" width="104.16" height="33.34" fill="#a2cee0"/>
<rect x="980.29" y="617.15" width="104.16" height="33.34" fill="#a0cde0"/>
<rect x="1084.44" y="617.15" width="104.16" height="33.34" fill="#9dcbdf"/>
<rect x="1188.60" y="617.15" width="104.16" height="33.34" fill="#a0cde0"/>
<rect x="1292.75" y="617.15" width="104.16" height="33.34" fill="#bbdbe8"/>
<rect x="1396.90" y="617.15" width="104.16" height="33.34" fill="#b6d9e7"/>
<rect x="1501.06" y="617.15" width="104.16" height="33.34" fill="#98c9dd"/>
<rect x="1605.22" y="617.15" width="104.16" height="33.34" fill="#a7d1e2"/>
<rect x="1709.37" y="617.15" width="104.16" height="33.34" fill="#b4d7e6"/>
<rect x="1813.53" y="617.15" width="104.16" height="33.34" fill="#bbdbe8"/>
<rect x="1917.68" y="617.15" width="104.16" height="33.34" fill="#b6d9e7"/>
<rect x="2021.84" y="617.15" width="104.16" height="33.34" fill="#aad2e3"/>
<rect x="2125.99" y="617.15" width="104.16" height="33.34" fill="#b1d6e5"/>
<rect x="2230.14" y="617.15" width="104.16" height="33.34" fill="#aad2e3"/>
<rect x="251.20" y="650.49" width="104.16" height="33.34" fill="#8cc2d9"/>
<rect x="355.36" y="650.49" width="104.16" height="33.34" fill="#98c9dd"/>
<rect x="459.51" y="650.49" width="104.16" height="33.34" fill="#9dcbdf"/>
<rect x="563.66" y="650.49" width="104.16" height="33.34" fill="#afd5e4"/>
<rect x="667.82" y="650.49" width="104.16" height="33.34" fill="#afd5e4"/>
<rect x="771.97" y="650.49" width="104.16" height="33.34" fill="#bedde9"/>
<rect x="876.13" y="650.49" width="104.16" height="33.34" fill="#a7d1e2"/>
<rect x="980.29" y="650.49" width="104.16" height="33.34" fill="#a2cee0"/>
<rect x="1084.44" y="650.49" width="104.16" height="33.34" fill="#91c5db"/>
<rect x="1188.60" y="650.49" width="104.16" height="33.34" fill="#b4d7e6"/>
<rect x="1292.75" y="650.49" width="104.16" height="33.34" fill="#bbdbe8"/>
<rect x="1396.90" y="650.49" width="104.16" height="33.34" fill="#bbdbe8"/>
<rect x="1501.06" y="650.49" width="104.16" height="33.34" fill="#acd3e4"/>
<rect x="1605.22" y="650.49" width="104.16" height="33.34" fill="#acd3e4"/>
<rect x="1709.37" y="650.49" width="104.16" height="33.34" fill="#bbdbe8"/>
<rect x="1813.53" y="650.49" width="104.16" height="33.34" fill="#bbdbe8"/>
<rect x="1917.68" y="650.49" width="104.16" height="33.34" fill="#bbdbe8"/>
<rect x="2021.84" y="650.49" width="104.16" height="33.34" fill="#b6d9e7"/>
<rect x="2125.99" y="650.49" width="104.16" height="33.34" fill="#bbdbe8"/>
<rect x="2230.14" y="650.49" width="104.16" height="33.34" fill="#bbdbe8"/>
<rect x="251.20" y="683.83" width="104.16" height="33.34" fill="#8ac1d9"/>
<rect x="355.36" y="683.83" width="104.16" height="33.34" fill="#94c6dc"/>
<rect x="459.51" y="683.83" width="104.16" height="33.34" fill="#9bcade"/>
<rect x="563.66" y="683.83" width="104.16" height="33.34" fill="#bbdbe8"/>
<rect x="667.82" y="683.83" width="104.16" height="33.34" fill="#a7d1e2"/>
<rect x="771.97" y="683.83" width="104.16" height="33.34" fill="#afd5e4"/>
<rect x="876.13" y="683.83" width="104.16" height="33.34" fill="#98c9dd"/>
<rect x="980.29" y="683.83" width="104.16" height="33.34" fill="#9bcade"/>
<rect x="1084.44" y="683.83" width="104.16" height="33.34" fill="#afd5e4"/>
<rect x="1188.60" y="683.83" width="104.16" height="33.34" fill="#b6d9e7"/>
<rect x="1292.75" y="683.83" width="104.16" height="33.34" fill="#bbdbe8"/>
<rect x="1396.90" y="683.83" width="104.16" height="33.34" fill="#bbdbe8"/>
<rect x="1501.06" y="683.83" width="104.16" height="33.34" fill="#aad2e3"/>
<rect x="1605.22" y="683.83" width="104.16" height="33.34" fill="#acd3e4"/>
<rect x="1709.37" y="683.83" width="104.16" height="33.34" fill="#bbdbe8"/>
<rect x="1813.53" y="683.83" width="104.16" height="33.34" fill="#bbdbe8"/>
<rect x="1917.68" y="683.83" width="104.16" height="33.34" fill="#bbdbe8"/>
<rect x="2021.84" y="683.83" width="104.16" height="33.34" fill="#b1d6e5"/>
<rect x="2125.99" y="683.83" width="104.16" height="33.34" fill="#bbdbe8"/>
<rect x="2230.14" y="683.83" width="104.16" height="33.34" fill="#bbdbe8"/>
<rect x="251.20" y="717.16" width="104.16" height="33.34" fill="#bbdbe8"/>
<rect x="355.36" y="717.16" width="104.16" height="33.34" fill="#acd3e4"/>
<rect x="459.51" y="717.16" width="104.16" height="33.34" fill="#b6d9e7"/>
<rect x="563.66" y="717.16" width="104.16" height="33.34" fill="#b9dae8"/>
<rect x="667.82" y="717.16" width="104.16" height="33.34" fill="#b1d6e5"/>
<rect x="771.97" y="717.16" width="104.16" height="33.34" fill="#7bb9d4"/>
<rect x="876.13" y="717.16" width="104.16" height="33.34" fill="#82bdd6"/>
<rect x="980.29" y="717.16" width="104.16" height="33.34" fill="#b9dae8"/>
<rect x="1084.44" y="717.16" width="104.16" height="33.34" fill="#b9dae8"/>
<rect x="1188.60" y="717.16" width="104.16" height="33.34" fill="#82bdd6"/>
<rect x="1292.75" y="717.16" width="104.16" height="33.34" fill="#acd3e4"/>
<rect x="1396.90" y="717.16" width="104.16" height="33.34" fill="#bbdbe8"/>
<rect x="1501.06" y="717.16" width="104.16" height="33.34" fill="#a5cfe1"/>
<rect x="1605.22" y="717.16" width="104.16" height="33.34" fill="#b1d6e5"/>
<rect x="1709.37" y="717.16" width="104.16" height="33.34" fill="#b9dae8"/>
<rect x="1813.53" y="717.16" width="104.16" height="33.34" fill="#8ac1d9"/>
<rect x="1917.68" y="717.16" width="104.16" height="33.34" fill="#b1d6e5"/>
<rect x="2021.84" y="717.16" width="104.16" height="33.34" fill="#8ac1d9"/>
<rect x="2125.99" y="717.16" width="104.16" height="33.34" fill="#bbdbe8"/>
<rect x="2230.14" y="717.16" width="104.16" height="33.34" fill="#bbdbe8"/>
<rect x="251.20" y="750.50" width="104.16" height="33.34" fill="#a7d1e2"/>
<rect x="355.36" y="750.50" width="104.16" height="33.34" fill="#bbdbe8"/>
<rect x="459.51" y="750.50" width="104.16" height="33.34" fill="#b9dae8"/>
<rect x="563.66" y="750.50" width="104.16" height="33.34" fill="#bbdbe8"/>
<rect x="667.82" y="750.50" width="104.16" height="33.34" fill="#b9dae8"/>
<rect x="771.97" y="750.50" width="104.16" height="33.34" fill="#bbdbe8"/>
<rect x="876.13" y="750.50" width="104.16" height="33.34" fill="#bbdbe8"/>
<rect x="980.29" y="750.50" width="104.16" height="33.34" fill="#bbdbe8"/>
<rect x="1084.44" y="750.50" width="104.16" height="33.34" fill="#bbdbe8"/>
<rect x="1188.60" y="750.50" width="104.16" height="33.34" fill="#bbdbe8"/>
<rect x="1292.75" y="750.50" width="104.16" height="33.34" fill="#bbdbe8"/>
<rect x="1396.90" y="750.50" width="104.16" height="33.34" fill="#bbdbe8"/>
<rect x="1501.06" y="750.50" width="104.16" height="33.34" fill="#bbdbe8"/>
<rect x="1605.22" y="750.50" width="104.16" height="33.34" fill="#afd5e4"/>
<rect x="1709.37" y="750.50" width="104.16" height="33.34" fill="#6cb0cf"/>
<rect x="1813.53" y="750.50" width="104.16" height="33.34" fill="#bbdbe8"/>
<rect x="1917.68" y="750.50" width="104.16" height="33.34" fill="#bbdbe8"/>
<rect x="2021.84" y="750.50" width="104.16" height="33.34" fill="#bbdbe8"/>
<rect x="2125.99" y="750.50" width="104.16" height="33.34" fill="#bbdbe8"/>
<rect x="2230.14" y="750.50" width="104.16" height="33.34" fill="#bbdbe8"/>
<rect x="251.20" y="783.83" width="104.16" height="33.34" fill="#bbdbe8"/>
<rect x="355.36" y="783.83" width="104.16" height="33.34" fill="#bbdbe8"/>
<rect x="459.51" y="783.83" width="104.16" height="33.34" fill="#bbdbe8"/>
<rect x="563.66" y="783.83" width="104.16" height="33.34" fill="#bbdbe8"/>
<rect x="667.82" y="783.83" width="104.16" height="33.34" fill="#bbdbe8"/>
<rect x="771.97" y="783.83" width="104.16" height="33.34" fill="#bbdbe8"/>
<rect x="876.13" y="783.83" width="104.16" height="33.34" fill="#bbdbe8"/>
<rect x="980.29" y="783.83" width="104.16" height="33.34" fill="#bbdbe8"/>
<rect x="1084.44" y="783.83" width="104.16" height="33.34" fill="#bbdbe8"/>
<rect x="1188.60" y="783.83" width="104.16" height="33.34" fill="#bbdbe8"/>
<rect x="1292.75" y="783.83" width="104.16" height="33.34" fill="#bbdbe8"/>
<rect x="1396.90" y="783.83" width="104.16" height="33.34" fill="#bbdbe8"/>
<rect x="1501.06" y="783.83" width="104.16" height="33.34" fill="#bbdbe8"/>
<rect x="1605.22" y="783.83" width="104.16" height="33.34" fill="#bbdbe8"/>
<rect x="1709.37" y="783.83" width="104.16" height="33.34" fill="#96c7dc"/>
<rect x="1813.53" y="783.83" width="104.16" height="33.34" fill="#bbdbe8"/>
<rect x="1917.68" y="783.83" width="104.16" height="33.34" fill="#bbdbe8"/>
<rect x="2021.84" y="783.83" width="104.16" height="33.34" fill="#bbdbe8"/>
<rect x="2125.99" y="783.83" width="104.16" height="33.34" fill="#bbdbe8"/>
<rect x="2230.14" y="783.83" width="104.16" height="33.34" fill="#bbdbe8"/>
<rect x="251.20" y="817.16" width="104.16" height="33.34" fill="#bcdce9"/>
<rect x="355.36" y="817.16" width="104.16" height="33.34" fill="#bcdce9"/>
<rect x="459.51" y="817.16" width="104.16" height="33.34" fill="#bcdce9"/>
<rect x="563.66" y="817.16" width="104.16" height="33.34" fill="#bcdce9"/>
<rect x="667.82" y="817.16" width="104.16" height="33.34" fill="#bcdce9"/>
<rect x="771.97" y="817.16" width="104.16" height="33.34" fill="#bcdce9"/>
<rect x="876.13" y="817.16" width="104.16" height="33.34" fill="#bcdce9"/>
<rect x="980.29" y="817.16" width="104.16" height="33.34" fill="#bcdce9"/>
<rect x="1084.44" y="817.16" width="104.16" height="33.34" fill="#bcdce9"/>
<rect x="1188.60" y="817.16" width="104.16" height="33.34" fill="#bcdce9"/>
<rect x="1292.75" y="817.16" width="104.16" height="33.34" fill="#bedde9"/>
<rect x="1396.90" y="817.16" width="104.16" height="33.34" fill="#bedde9"/>
<rect x="1501.06" y="817.16" width="104.16" height="33.34" fill="#bedde9"/>
<rect x="1605.22" y="817.16" width="104.16" height="33.34" fill="#bedde9"/>
<rect x="1709.37" y="817.16" width="104.16" height="33.34" fill="#8fc3da"/>
<rect x="1813.53" y="817.16" width="104.16" height="33.34" fill="#bedde9"/>
<rect x="1917.68" y="817.16" width="104.16" height="33.34" fill="#bedde9"/>
<rect x="2021.84" y="817.16" width="104.16" height="33.34" fill="#bedde9"/>
<rect x="2125.99" y="817.16" width="104.16" height="33.34" fill="#bedde9"/>
<rect x="2230.14" y="817.16" width="104.16" height="33.34" fill="#bedde9"/>
<rect x="251.20" y="850.50" width="104.16" height="33.34" fill="#bedde9"/>
<rect x="355.36" y="850.50" width="104.16" height="33.34" fill="#bbdbe8"/>
<rect x="459.51" y="850.50" width="104.16" height="33.34" fill="#bbdbe8"/>
<rect x="563.66" y="850.50" width="104.16" height="33.34" fill="#bedde9"/>
<rect x="667.82" y="850.50" width="104.16" height="33.34" fill="#76b6d2"/>
<rect x="771.97" y="850.50" width="104.16" height="33.34" fill="#bedde9"/>
<rect x="876.13" y="850.50" width="104.16" height="33.34" fill="#bbdbe8"/>
<rect x="980.29" y="850.50" width="104.16" height="33.34" fill="#bbdbe8"/>
<rect x="1084.44" y="850.50" width="104.16" height="33.34" fill="#bedde9"/>
<rect x="1188.60" y="850.50" width="104.16" height="33.34" fill="#bedde9"/>
<rect x="1292.75" y="850.50" width="104.16" height="33.34" fill="#bedde9"/>
<rect x="1396.90" y="850.50" width="104.16" height="33.34" fill="#bedde9"/>
<rect x="1501.06" y="850.50" width="104.16" height="33.34" fill="#bedde9"/>
<rect x="1605.22" y="850.50" width="104.16" height="33.34" fill="#bedde9"/>
<rect x="1709.37" y="850.50" width="104.16" height="33.34" fill="#b9dae8"/>
<rect x="1813.53" y="850.50" width="104.16" height="33.34" fill="#bedde9"/>
<rect x="1917.68" y="850.50" width="104.16" height="33.34" fill="#bedde9"/>
<rect x="2021.84" y="850.50" width="104.16" height="33.34" fill="#bedde9"/>
<rect x="2125.99" y="850.50" width="104.16" height="33.34" fill="#bedde9"/>
<rect x="2230.14" y="850.50" width="104.16" height="33.34" fill="#bedde9"/>
<rect x="251.20" y="883.84" width="104.16" height="33.34" fill="#bedde9"/>
<rect x="355.36" y="883.84" width="104.16" height="33.34" fill="#bedde9"/>
<rect x="459.51" y="883.84" width="104.16" height="33.34" fill="#80bbd5"/>
<rect x="563.66" y="883.84" width="104.16" height="33.34" fill="#bedde9"/>
<rect x="667.82" y="883.84" width="104.16" height="33.34" fill="#76b6d2"/>
<rect x="771.97" y="883.84" width="104.16" height="33.34" fill="#bedde9"/>
<rect x="876.13" y="883.84" width="104.16" height="33.34" fill="#bbdbe8"/>
<rect x="980.29" y="883.84" width="104.16" height="33.34" fill="#bbdbe8"/>
<rect x="1084.44" y="883.84" width="104.16" height="33.34" fill="#bedde9"/>
<rect x="1188.60" y="883.84" width="104.16" height="33.34" fill="#bbdbe8"/>
<rect x="1292.75" y="883.84" width="104.16" height="33.34" fill="#b9dae8"/>
<rect x="1396.90" y="883.84" width="104.16" height="33.34" fill="#bedde9"/>
<rect x="1501.06" y="883.84" width="104.16" height="33.34" fill="#bedde9"/>
<rect x="1605.22" y="883.84" width="104.16" height="33.34" fill="#bedde9"/>
<rect x="1709.37" y="883.84" width="104.16" height="33.34" fill="#bbdbe8"/>
<rect x="1813.53" y="883.84" width="104.16" height="33.34" fill="#bedde9"/>
<rect x="1917.68" y="883.84" width="104.16" height="33.34" fill="#bedde9"/>
<rect x="2021.84" y="883.84" width="104.16" height="33.34" fill="#aad2e3"/>
<rect x="2125.99" y="883.84" width="104.16" height="33.34" fill="#bedde9"/>
<rect x="2230.14" y="883.84" width="104.16" height="33.34" fill="#bbdbe8"/>
<rect x="251.20" y="917.17" width="104.16" height="33.34" fill="#aad2e3"/>
<rect x="355.36" y="917.17" width="104.16" height="33.34" fill="#b1d6e5"/>
<rect x="459.51" y="917.17" width="104.16" height="33.34" fill="#acd3e4"/>
<rect x="563.66" y="917.17" width="104.16" height="33.34" fill="#bbdbe8"/>
<rect x="667.82" y="917.17" width="104.16" height="33.34" fill="#bbdbe8"/>
<rect x="771.97" y="917.17" width="104.16" height="33.34" fill="#b6d9e7"/>
<rect x="876.13" y="917.17" width="104.16" height="33.34" fill="#b9dae8"/>
<rect x="980.29" y="917.17" width="104.16" height="33.34" fill="#aad2e3"/>
<rect x="1084.44" y="917.17" width="104.16" height="33.34" fill="#afd5e4"/>
<rect x="1188.60" y="917.17" width="104.16" height="33.34" fill="#a5cfe1"/>
<rect x="1292.75" y="917.17" width="104.16" height="33.34" fill="#8fc3da"/>
<rect x="1396.90" y="917.17" width="104.16" height="33.34" fill="#8fc3da"/>
<rect x="1501.06" y="917.17" width="104.16" height="33.34" fill="#b6d9e7"/>
<rect x="1605.22" y="917.17" width="104.16" height="33.34" fill="#a0cde0"/>
<rect x="1709.37" y="917.17" width="104.16" height="33.34" fill="#bedde9"/>
<rect x="1813.53" y="917.17" width="104.16" height="33.34" fill="#8fc3da"/>
<rect x="1917.68" y="917.17" width="104.16" height="33.34" fill="#b4d7e6"/>
<rect x="2021.84" y="917.17" width="104.16" height="33.34" fill="#bbdbe8"/>
<rect x="2125.99" y="917.17" width="104.16" height="33.34" fill="#96c7dc"/>
<rect x="2230.14" y="917.17" width="104.16" height="33.34" fill="#a5cfe1"/>
<rect x="251.20" y="950.50" width="104.16" height="33.34" fill="#bedde9"/>
<rect x="355.36" y="950.50" width="104.16" height="33.34" fill="#acd3e4"/>
<rect x="459.51" y="950.50" width="104.16" height="33.34" fill="#a5cfe1"/>
<rect x="563.66" y="950.50" width="104.16" height="33.34" fill="#bedde9"/>
<rect x="667.82" y="950.50" width="104.16" height="33.34" fill="#bedde9"/>
<rect x="771.97" y="950.50" width="104.16" height="33.34" fill="#bbdbe8"/>
<rect x="876.13" y="950.50" width="104.16" height="33.34" fill="#b9dae8"/>
<rect x="980.29" y="950.50" width="104.16" height="33.34" fill="#82bdd6"/>
<rect x="1084.44" y="950.50" width="104.16" height="33.34" fill="#85bed7"/>
<rect x="1188.60" y="950.50" width="104.16" height="33.34" fill="#aad2e3"/>
<rect x="1292.75" y="950.50" width="104.16" height="33.34" fill="#a5cfe1"/>
<rect x="1396.90" y="950.50" width="104.16" height="33.34" fill="#b1d6e5"/>
<rect x="1501.06" y="950.50" width="104.16" height="33.34" fill="#b1d6e5"/>
<rect x="1605.22" y="950.50" width="104.16" height="33.34" fill="#9bcade"/>
<rect x="1709.37" y="950.50" width="104.16" height="33.34" fill="#b1d6e5"/>
<rect x="1813.53" y="950.50" width="104.16" height="33.34" fill="#a0cde0"/>
<rect x="1917.68" y="950.50" width="104.16" height="33.34" fill="#94c6dc"/>
<rect x="2021.84" y="950.50" width="104.16" height="33.34" fill="#aad2e3"/>
<rect x="2125.99" y="950.50" width="104.16" height="33.34" fill="#a7d1e2"/>
<rect x="2230.14" y="950.50" width="104.16" height="33.34" fill="#b4d7e6"/>
<rect x="251.20" y="983.84" width="104.16" height="33.34" fill="#96c7dc"/>
<rect x="355.36" y="983.84" width="104.16" height="33.34" fill="#bedde9"/>
<rect x="459.51" y="983.84" width="104.16" height="33.34" fill="#a0cde0"/>
<rect x="563.66" y="983.84" width="104.16" height="33.34" fill="#bedde9"/>
<rect x="667.82" y="983.84" width="104.16" height="33.34" fill="#acd3e4"/>
<rect x="771.97" y="983.84" width="104.16" height="33.34" fill="#aad2e3"/>
<rect x="876.13" y="983.84" width="104.16" height="33.34" fill="#bbdbe8"/>
<rect x="980.29" y="983.84" width="104.16" height="33.34" fill="#a5cfe1"/>
<rect x="1084.44" y="983.84" width="104.16" height="33.34" fill="#bbdbe8"/>
<rect x="1188.60" y="983.84" width="104.16" height="33.34" fill="#b9dae8"/>
<rect x="1292.75" y="983.84" width="104.16" height="33.34" fill="#bbdbe8"/>
<rect x="1396.90" y="983.84" width="104.16" height="33.34" fill="#bbdbe8"/>
<rect x="1501.06" y="983.84" width="104.16" height="33.34" fill="#b6d9e7"/>
<rect x="1605.22" y="983.84" width="104.16" height="33.34" fill="#b6d9e7"/>
<rect x="1709.37" y="983.84" width="104.16" height="33.34" fill="#bbdbe8"/>
<rect x="1813.53" y="983.84" width="104.16" height="33.34" fill="#bbdbe8"/>
<rect x="1917.68" y="983.84" width="104.16" height="33.34" fill="#bbdbe8"/>
<rect x="2021.84" y="983.84" width="104.16" height="33.34" fill="#b9dae8"/>
<rect x="2125.99" y="983.84" width="104.16" height="33.34" fill="#bbdbe8"/>
<rect x="2230.14" y="983.84" width="104.16" height="33.34" fill="#bbdbe8"/>
<rect x="251.20" y="1017.18" width="104.16" height="33.34" fill="#bbdbe8"/>
<rect x="355.36" y="1017.18" width="104.16" height="33.34" fill="#a5cfe1"/>
<rect x="459.51" y="1017.18" width="104.16" height="33.34" fill="#aad2e3"/>
<rect x="563.66" y="1017.18" width="104.16" height="33.34" fill="#b4d7e6"/>
<rect x="667.82" y="1017.18" width="104.16" height="33.34" fill="#a5cfe1"/>
<rect x="771.97" y="1017.18" width="104.16" height="33.34" fill="#b9dae8"/>
<rect x="876.13" y="1017.18" width="104.16" height="33.34" fill="#b9dae8"/>
<rect x="980.29" y="1017.18" width="104.16" height="33.34" fill="#a7d1e2"/>
<rect x="1084.44" y="1017.18" width="104.16" height="33.34" fill="#b1d6e5"/>
<rect x="1188.60" y="1017.18" width="104.16" height="33.34" fill="#b9dae8"/>
<rect x="1292.75" y="1017.18" width="104.16" height="33.34" fill="#bbdbe8"/>
<rect x="1396.90" y="1017.18" width="104.16" height="33.34" fill="#bbdbe8"/>
<rect x="1501.06" y="1017.18" width="104.16" height="33.34" fill="#b4d7e6"/>
<rect x="1605.22" y="1017.18" width="104.16" height="33.34" fill="#acd3e4"/>
<rect x="1709.37" y="1017.18" width="104.16" height="33.34" fill="#b4d7e6"/>
<rect x="1813.53" y="1017.18" width="104.16" height="33.34" fill="#bbdbe8"/>
<rect x="1917.68" y="1017.18" width="104.16" height="33.34" fill="#bbdbe8"/>
<rect x="2021.84" y="1017.18" width="104.16" height="33.34" fill="#bbdbe8"/>
<rect x="2125.99" y="1017.18" width="104.16" height="33.34" fill="#bbdbe8"/>
<rect x="2230.14" y="1017.18" width="104.16" height="33.34" fill="#bbdbe8"/>
<rect x="251.20" y="1050.51" width="104.16" height="33.34" fill="#bbdbe8"/>
<rect x="355.36" y="1050.51" width="104.16" height="33.34" fill="#b1d6e5"/>
<rect x="459.51" y="1050.51" width="104.16" height="33.34" fill="#b4d7e6"/>
<rect x="563.66" y="1050.51" width="104.16" height="33.34" fill="#b6d9e7"/>
<rect x="667.82" y="1050.51" width="104.16" height="33.34" fill="#b4d7e6"/>
<rect x="771.97" y="1050.51" width="104.16" height="33.34" fill="#b6d9e7"/>
<rect x="876.13" y="1050.51" width="104.16" height="33.34" fill="#b4d7e6"/>
<rect x="980.29" y="1050.51" width="104.16" height="33.34" fill="#bbdbe8"/>
<rect x="1084.44" y="1050.51" width="104.16" height="33.34" fill="#a7d1e2"/>
<rect x="1188.60" y="1050.51" width="104.16" height="33.34" fill="#bbdbe8"/>
<rect x="1292.75" y="1050.51" width="104.16" height="33.34" fill="#bbdbe8"/>
<rect x="1396.90" y="1050.51" width="104.16" height="33.34" fill="#bbdbe8"/>
<rect x="1501.06" y="1050.51" width="104.16" height="33.34" fill="#b6d9e7"/>
<rect x="1605.22" y="1050.51" width="104.16" height="33.34" fill="#b1d6e5"/>
<rect x="1709.37" y="1050.51" width="104.16" height="33.34" fill="#aad2e3"/>
<rect x="1813.53" y="1050.51" width="104.16" height="33.34" fill="#bbdbe8"/>
<rect x="1917.68" y="1050.51" width="104.16" height="33.34" fill="#bbdbe8"/>
<rect x="2021.84" y="1050.51" width="104.16" height="33.34" fill="#bbdbe8"/>
<rect x="2125.99" y="1050.51" width="104.16" height="33.34" fill="#bbdbe8"/>
<rect x="2230.14" y="1050.51" width="104.16" height="33.34" fill="#bbdbe8"/>
<rect x="251.20" y="1083.85" width="104.16" height="33.34" fill="#b4d7e6"/>
<rect x="355.36" y="1083.85" width="104.16" height="33.34" fill="#aad2e3"/>
<rect x="459.51" y="1083.85" width="104.16" height="33.34" fill="#b9dae8"/>
<rect x="563.66" y="1083.85" width="104.16" height="33.34" fill="#b4d7e6"/>
<rect x="667.82" y="1083.85" width="104.16" height="33.34" fill="#aad2e3"/>
<rect x="771.97" y="1083.85" width="104.16" height="33.34" fill="#b9dae8"/>
<rect x="876.13" y="1083.85" width="104.16" height="33.34" fill="#b6d9e7"/>
<rect x="980.29" y="1083.85" width="104.16" height="33.34" fill="#bbdbe8"/>
<rect x="1084.44" y="1083.85" width="104.16" height="33.34" fill="#b1d6e5"/>
<rect x="1188.60" y="1083.85" width="104.16" height="33.34" fill="#b9dae8"/>
<rect x="1292.75" y="1083.85" width="104.16" height="33.34" fill="#bbdbe8"/>
<rect x="1396.90" y="1083.85" width="104.16" height="33.34" fill="#bbdbe8"/>
<rect x="1501.06" y="1083.85" width="104.16" height="33.34" fill="#b4d7e6"/>
<rect x="1605.22" y="1083.85" width="104.16" height="33.34" fill="#b4d7e6"/>
<rect x="1709.37" y="1083.85" width="104.16" height="33.34" fill="#b6d9e7"/>
<rect x="1813.53" y="1083.85" width="104.16" height="33.34" fill="#bbdbe8"/>
<rect x="1917.68" y="1083.85" width="104.16" height="33.34" fill="#bbdbe8"/>
<rect x="2021.84" y="1083.85" width="104.16" height="33.34" fill="#bbdbe8"/>
<rect x="2125.99" y="1083.85" width="104.16" height="33.34" fill="#bbdbe8"/>
<rect x="2230.14" y="1083.85" width="104.16" height="33.34" fill="#bbdbe8"/>
<rect x="251.20" y="1117.18" width="104.16" height="33.34" fill="#9bcade"/>
<rect x="355.36" y="1117.18" width="104.16" height="33.34" fill="#bedde9"/>
<rect x="459.51" y="1117.18" width="104.16" height="33.34" fill="#bedde9"/>
<rect x="563.66" y="1117.18" width="104.16" height="33.34" fill="#bedde9"/>
<rect x="667.82" y="1117.18" width="104.16" height="33.34" fill="#bedde9"/>
<rect x="771.97" y="1117.18" width="104.16" height="33.34" fill="#bedde9"/>
<rect x="876.13" y="1117.18" width="104.16" height="33.34" fill="#bbdbe8"/>
<rect x="980.29" y="1117.18" width="104.16" height="33.34" fill="#bbdbe8"/>
<rect x="1084.44" y="1117.18" width="104.16" height="33.34" fill="#bbdbe8"/>
<rect x="1188.60" y="1117.18" width="104.16" height="33.34" fill="#bbdbe8"/>
<rect x="1292.75" y="1117.18" width="104.16" height="33.34" fill="#bbdbe8"/>
<rect x="1396.90" y="1117.18" width="104.16" height="33.34" fill="#a7d1e2"/>
<rect x="1501.06" y="1117.18" width="104.16" height="33.34" fill="#bbdbe8"/>
<rect x="1605.22" y="1117.18" width="104.16" height="33.34" fill="#bbdbe8"/>
<rect x="1709.37" y="1117.18" width="104.16" height="33.34" fill="#bbdbe8"/>
<rect x="1813.53" y="1117.18" width="104.16" height="33.34" fill="#9bcade"/>
<rect x="1917.68" y="1117.18" width="104.16" height="33.34" fill="#bbdbe8"/>
<rect x="2021.84" y="1117.18" width="104.16" height="33.34" fill="#bbdbe8"/>
<rect x="2125.99" y="1117.18" width="104.16" height="33.34" fill="#a0cde0"/>
<rect x="2230.14" y="1117.18" width="104.16" height="33.34" fill="#bbdbe8"/>
<rect x="251.20" y="1150.52" width="104.16" height="33.34" fill="#bbdbe8"/>
<rect x="355.36" y="1150.52" width="104.16" height="33.34" fill="#b4d7e6"/>
<rect x="459.51" y="1150.52" width="104.16" height="33.34" fill="#bbdbe8"/>
<rect x="563.66" y="1150.52" width="104.16" height="33.34" fill="#b6d9e7"/>
<rect x="667.82" y="1150.52" width="104.16" height="33.34" fill="#bbdbe8"/>
<rect x="771.97" y="1150.52" width="104.16" height="33.34" fill="#bbdbe8"/>
<rect x="876.13" y="1150.52" width="104.16" height="33.34" fill="#bbdbe8"/>
<rect x="980.29" y="1150.52" width="104.16" height="33.34" fill="#bbdbe8"/>
<rect x="1084.44" y="1150.52" width="104.16" height="33.34" fill="#b4d7e6"/>
<rect x="1188.60" y="1150.52" width="104.16" height="33.34" fill="#b4d7e6"/>
<rect x="1292.75" y="1150.52" width="104.16" height="33.34" fill="#aad2e3"/>
<rect x="1396.90" y="1150.52" width="104.16" height="33.34" fill="#b1d6e5"/>
<rect x="1501.06" y="1150.52" width="104.16" height="33.34" fill="#b1d6e5"/>
<rect x="1605.22" y="1150.52" width="104.16" height="33.34" fill="#acd3e4"/>
<rect x="1709.37" y="1150.52" width="104.16" height="33.34" fill="#bbdbe8"/>
<rect x="1813.53" y="1150.52" width="104.16" height="33.34" fill="#8fc3da"/>
<rect x="1917.68" y="1150.52" width="104.16" height="33.34" fill="#bbdbe8"/>
<rect x="2021.84" y="1150.52" width="104.16" height="33.34" fill="#b9dae8"/>
<rect x="2125.99" y="1150.52" width="104.16" height="33.34" fill="#acd3e4"/>
<rect x="2230.14" y="1150.52" width="104.16" height="33.34" fill="#bbdbe8"/>
<rect x="251.20" y="1183.85" width="104.16" height="33.34" fill="#bedde9"/>
<rect x="355.36" y="1183.85" width="104.16" height="33.34" fill="#bedde9"/>
<rect x="459.51" y="1183.85" width="104.16" height="33.34" fill="#bedde9"/>
<rect x="563.66" y="1183.85" width="104.16" height="33.34" fill="#bedde9"/>
<rect x="667.82" y="1183.85" width="104.16" height="33.34" fill="#bbdbe8"/>
<rect x="771.97" y="1183.85" width="104.16" height="33.34" fill="#bedde9"/>
<rect x="876.13" y="1183.85" width="104.16" height="33.34" fill="#bedde9"/>
<rect x="980.29" y="1183.85" width="104.16" height="33.34" fill="#bedde9"/>
<rect x="1084.44" y="1183.85" width="104.16" height="33.34" fill="#bedde9"/>
<rect x="1188.60" y="1183.85" width="104.16" height="33.34" fill="#bedde9"/>
<rect x="1292.75" y="1183.85" width="104.16" height="33.34" fill="#bbdbe8"/>
<rect x="1396.90" y="1183.85" width="104.16" height="33.34" fill="#bbdbe8"/>
<rect x="1501.06" y="1183.85" width="104.16" height="33.34" fill="#bbdbe8"/>
<rect x="1605.22" y="1183.85" width="104.16" height="33.34" fill="#bbdbe8"/>
<rect x="1709.37" y="1183.85" width="104.16" height="33.34" fill="#bbdbe8"/>
<rect x="1813.53" y="1183.85" width="104.16" height="33.34" fill="#a7d1e2"/>
<rect x="1917.68" y="1183.85" width="104.16" height="33.34" fill="#98c9dd"/>
<rect x="2021.84" y="1183.85" width="104.16" height="33.34" fill="#bbdbe8"/>
<rect x="2125.99" y="1183.85" width="104.16" height="33.34" fill="#bbdbe8"/>
<rect x="2230.14" y="1183.85" width="104.16" height="33.34" fill="#bbdbe8"/>
<rect x="251.20" y="1217.18" width="104.16" height="33.34" fill="#bedde9"/>
<rect x="355.36" y="1217.18" width="104.16" height="33.34" fill="#bedde9"/>
<rect x="459.51" y="1217.18" width="104.16" height="33.34" fill="#bedde9"/>
<rect x="563.66" y="1217.18" width="104.16" height="33.34" fill="#bedde9"/>
<rect x="667.82" y="1217.18" width="104.16" height="33.34" fill="#bedde9"/>
<rect x="771.97" y="1217.18" width="104.16" height="33.34" fill="#bedde9"/>
<rect x="876.13" y="1217.18" width="104.16" height="33.34" fill="#bedde9"/>
<rect x="980.29" y="1217.18" width="104.16" height="33.34" fill="#bedde9"/>
<rect x="1084.44" y="1217.18" width="104.16" height="33.34" fill="#bedde9"/>
<rect x="1188.60" y="1217.18" width="104.16" height="33.34" fill="#bedde9"/>
<rect x="1292.75" y="1217.18" width="104.16" height="33.34" fill="#bedde9"/>
<rect x="1396.90" y="1217.18" width="104.16" height="33.34" fill="#bedde9"/>
<rect x="1501.06" y="1217.18" width="104.16" height="33.34" fill="#bedde9"/>
<rect x="1605.22" y="1217.18" width="104.16" height="33.34" fill="#bedde9"/>
<rect x="1709.37" y="1217.18" width="104.16" height="33.34" fill="#bedde9"/>
<rect x="1813.53" y="1217.18" width="104.16" height="33.34" fill="#afd5e4"/>
<rect x="1917.68" y="1217.18" width="104.16" height="33.34" fill="#a0cde0"/>
<rect x="2021.84" y="1217.18" width="104.16" height="33.34" fill="#bedde9"/>
<rect x="2125.99" y="1217.18" width="104.16" height="33.34" fill="#bedde9"/>
<rect x="2230.14" y="1217.18" width="104.16" height="33.34" fill="#bedde9"/>
<rect x="251.20" y="1250.52" width="104.16" height="33.34" fill="#bedde9"/>
<rect x="355.36" y="1250.52" width="104.16" height="33.34" fill="#bedde9"/>
<rect x="459.51" y="1250.52" width="104.16" height="33.34" fill="#bedde9"/>
<rect x="563.66" y="1250.52" width="104.16" height="33.34" fill="#bedde9"/>
<rect x="667.82" y="1250.52" width="104.16" height="33.34" fill="#bedde9"/>
<rect x="771.97" y="1250.52" width="104.16" height="33.34" fill="#bedde9"/>
<rect x="876.13" y="1250.52" width="104.16" height="33.34" fill="#bbdbe8"/>
<rect x="980.29" y="1250.52" width="104.16" height="33.34" fill="#bbdbe8"/>
<rect x="1084.44" y="1250.52" width="104.16" height="33.34" fill="#bbdbe8"/>
<rect x="1188.60" y="1250.52" width="104.16" height="33.34" fill="#bedde9"/>
<rect x="1292.75" y="1250.52" width="104.16" height="33.34" fill="#bedde9"/>
<rect x="1396.90" y="1250.52" width="104.16" height="33.34" fill="#bedde9"/>
<rect x="1501.06" y="1250.52" width="104.16" height="33.34" fill="#b1d6e5"/>
<rect x="1605.22" y="1250.52" width="104.16" height="33.34" fill="#bedde9"/>
<rect x="1709.37" y="1250.52" width="104.16" height="33.34" fill="#bbdbe8"/>
<rect x="1813.53" y="1250.52" width="104.16" height="33.34" fill="#bedde9"/>
<rect x="1917.68" y="1250.52" width="104.16" height="33.34" fill="#a0cde0"/>
<rect x="2021.84" y="1250.52" width="104.16" height="33.34" fill="#b9dae8"/>
<rect x="2125.99" y="1250.52" width="104.16" height="33.34" fill="#bedde9"/>
<rect x="2230.14" y="1250.52" width="104.16" height="33.34" fill="#bedde9"/>
<rect x="251.20" y="1283.86" width="104.16" height="33.34" fill="#bedde9"/>
<rect x="355.36" y="1283.86" width="104.16" height="33.34" fill="#bedde9"/>
<rect x="459.51" y="1283.86" width="104.16" height="33.34" fill="#bedde9"/>
<rect x="563.66" y="1283.86" width="104.16" height="33.34" fill="#bedde9"/>
<rect x="667.82" y="1283.86" width="104.16" height="33.34" fill="#bedde9"/>
<rect x="771.97" y="1283.86" width="104.16" height="33.34" fill="#bedde9"/>
<rect x="876.13" y="1283.86" width="104.16" height="33.34" fill="#bedde9"/>
<rect x="980.29" y="1283.86" width="104.16" height="33.34" fill="#bedde9"/>
<rect x="1084.44" y="1283.86" width="104.16" height="33.34" fill="#b1d6e5"/>
<rect x="1188.60" y="1283.86" width="104.16" height="33.34" fill="#bedde9"/>
<rect x="1292.75" y="1283.86" width="104.16" height="33.34" fill="#bedde9"/>
<rect x="1396.90" y="1283.86" width="104.16" height="33.34" fill="#bedde9"/>
<rect x="1501.06" y="1283.86" width="104.16" height="33.34" fill="#bbdbe8"/>
<rect x="1605.22" y="1283.86" width="104.16" height="33.34" fill="#bbdbe8"/>
<rect x="1709.37" y="1283.86" width="104.16" height="33.34" fill="#bbdbe8"/>
<rect x="1813.53" y="1283.86" width="104.16" height="33.34" fill="#bedde9"/>
<rect x="1917.68" y="1283.86" width="104.16" height="33.34" fill="#a7d1e2"/>
<rect x="2021.84" y="1283.86" width="104.16" height="33.34" fill="#afd5e4"/>
<rect x="2125.99" y="1283.86" width="104.16" height="33.34" fill="#bedde9"/>
<rect x="2230.14" y="1283.86" width="104.16" height="33.34" fill="#bedde9"/>
<rect x="251.20" y="1317.19" width="104.16" height="33.34" fill="#bedde9"/>
<rect x="355.36" y="1317.19" width="104.16" height="33.34" fill="#bedde9"/>
<rect x="459.51" y="1317.19" width="104.16" height="33.34" fill="#bedde9"/>
<rect x="563.66" y="1317.19" width="104.16" height="33.34" fill="#bedde9"/>
<rect x="667.82" y="1317.19" width="104.16" height="33.34" fill="#bedde9"/>
<rect x="771.97" y="1317.19" width="104.16" height="33.34" fill="#bedde9"/>
<rect x="876.13" y="1317.19" width="104.16" height="33.34" fill="#98c9dd"/>
<rect x="980.29" y="1317.19" width="104.16" height="33.34" fill="#bedde9"/>
<rect x="1084.44" y="1317.19" width="104.16" height="33.34" fill="#bedde9"/>
<rect x="1188.60" y="1317.19" width="104.16" height="33.34" fill="#bedde9"/>
<rect x="1292.75" y="1317.19" width="104.16" height="33.34" fill="#bedde9"/>
<rect x="1396.90" y="1317.19" width="104.16" height="33.34" fill="#bedde9"/>
<rect x="1501.06" y="1317.19" width="104.16" height="33.34" fill="#bedde9"/>
<rect x="1605.22" y="1317.19" width="104.16" height="33.34" fill="#bedde9"/>
<rect x="1709.37" y="1317.19" width="104.16" height="33.34" fill="#bedde9"/>
<rect x="1813.53" y="1317.19" width="104.16" height="33.34" fill="#bedde9"/>
<rect x="1917.68" y="1317.19" width="104.16" height="33.34" fill="#bedde9"/>
<rect x="2021.84" y="1317.19" width="104.16" height="33.34" fill="#bedde9"/>
<rect x="2125.99" y="1317.19" width="104.16" height="33.34" fill="#bedde9"/>
<rect x="2230.14" y="1317.19" width="104.16" height="33.34" fill="#bedde9"/>
<rect x="251.20" y="1350.53" width="104.16" height="33.34" fill="#bedde9"/>
<rect x="355.36" y="1350.53" width="104.16" height="33.34" fill="#bedde9"/>
<rect x="459.51" y="1350.53" width="104.16" height="33.34" fill="#bedde9"/>
<rect x="563.66" y="1350.53" width="104.16" height="33.34" fill="#a5cfe1"/>
<rect x="667.82" y="1350.53" width="104.16" height="33.34" fill="#bedde9"/>
<rect x="771.97" y="1350.53" width="104.16" height="33.34" fill="#bedde9"/>
<rect x="876.13" y="1350.53" width="104.16" height="33.34" fill="#bedde9"/>
<rect x="980.29" y="1350.53" width="104.16" height="33.34" fill="#bedde9"/>
<rect x="1084.44" y="1350.53" width="104.16" height="33.34" fill="#bedde9"/>
<rect x="1188.60" y="1350.53" width="104.16" height="33.34" fill="#bedde9"/>
<rect x="1292.75" y="1350.53" width="104.16" height="33.34" fill="#bedde9"/>
<rect x="1396.90" y="1350.53" width="104.16" height="33.34" fill="#bedde9"/>
<rect x="1501.06" y="1350.53" width="104.16" height="33.34" fill="#bedde9"/>
<rect x="1605.22" y="1350.53" width="104.16" height="33.34" fill="#bbdbe8"/>
<rect x="1709.37" y="1350.53" width="104.16" height="33.34" fill="#bbdbe8"/>
<rect x="1813.53" y="1350.53" width="104.16" height="33.34" fill="#bedde9"/>
<rect x="1917.68" y="1350.53" width="104.16" height="33.34" fill="#bedde9"/>
<rect x="2021.84" y="1350.53" width="104.16" height="33.34" fill="#bedde9"/>
<rect x="2125.99" y="1350.53" width="104.16" height="33.34" fill="#bedde9"/>
<rect x="2230.14" y="1350.53" width="104.16" height="33.34" fill="#bedde9"/>
<rect x="251.20" y="1383.86" width="104.16" height="33.34" fill="#bbdbe8"/>
<rect x="355.36" y="1383.86" width="104.16" height="33.34" fill="#bedde9"/>
<rect x="459.51" y="1383.86" width="104.16" height="33.34" fill="#bedde9"/>
<rect x="563.66" y="1383.86" width="104.16" height="33.34" fill="#b1d6e5"/>
<rect x="667.82" y="1383.86" width="104.16" height="33.34" fill="#bedde9"/>
<rect x="771.97" y="1383.86" width="104.16" height="33.34" fill="#b9dae8"/>
<rect x="876.13" y="1383.86" width="104.16" height="33.34" fill="#b9dae8"/>
<rect x="980.29" y="1383.86" width="104.16" height="33.34" fill="#bbdbe8"/>
<rect x="1084.44" y="1383.86" width="104.16" height="33.34" fill="#bbdbe8"/>
<rect x="1188.60" y="1383.86" width="104.16" height="33.34" fill="#bedde9"/>
<rect x="1292.75" y="1383.86" width="104.16" height="33.34" fill="#bedde9"/>
<rect x="1396.90" y="1383.86" width="104.16" height="33.34" fill="#bedde9"/>
<rect x="1501.06" y="1383.86" width="104.16" height="33.34" fill="#b1d6e5"/>
<rect x="1605.22" y="1383.86" width="104.16" height="33.34" fill="#bedde9"/>
<rect x="1709.37" y="1383.86" width="104.16" height="33.34" fill="#bedde9"/>
<rect x="1813.53" y="1383.86" width="104.16" height="33.34" fill="#bedde9"/>
<rect x="1917.68" y="1383.86" width="104.16" height="33.34" fill="#bedde9"/>
<rect x="2021.84" y="1383.86" width="104.16" height="33.34" fill="#bedde9"/>
<rect x="2125.99" y="1383.86" width="104.16" height="33.34" fill="#bedde9"/>
<rect x="2230.14" y="1383.86" width="104.16" height="33.34" fill="#bedde9"/>
<rect x="251.20" y="1417.19" width="104.16" height="33.34" fill="#bedde9"/>
<rect x="355.36" y="1417.19" width="104.16" height="33.34" fill="#bedde9"/>
<rect x="459.51" y="1417.19" width="104.16" height="33.34" fill="#bedde9"/>
<rect x="563.66" y="1417.19" width="104.16" height="33.34" fill="#bedde9"/>
<rect x="667.82" y="1417.19" width="104.16" height="33.34" fill="#bedde9"/>
<rect x="771.97" y="1417.19" width="104.16" height="33.34" fill="#bedde9"/>
<rect x="876.13" y="1417.19" width="104.16" height="33.34" fill="#bedde9"/>
<rect x="980.29" y="1417.19" width="104.16" height="33.34" fill="#bedde9"/>
<rect x="1084.44" y="1417.19" width="104.16" height="33.34" fill="#bedde9"/>
<rect x="1188.60" y="1417.19" width="104.16" height="33.34" fill="#bedde9"/>
<rect x="1292.75" y="1417.19" width="104.16" height="33.34" fill="#bedde9"/>
<rect x="1396.90" y="1417.19" width="104.16" height="33.34" fill="#bedde9"/>
<rect x="1501.06" y="1417.19" width="104.16" height="33.34" fill="#b1d6e5"/>
<rect x="1605.22" y="1417.19" width="104.16" height="33.34" fill="#bedde9"/>
<rect x="1709.37" y="1417.19" width="104.16" height="33.34" fill="#bbdbe8"/>
<rect x="1813.53" y="1417.19" width="104.16" height="33.34" fill="#bedde9"/>
<rect x="1917.68" y="1417.19" width="104.16" height="33.34" fill="#bedde9"/>
<rect x="2021.84" y="1417.19" width="104.16" height="33.34" fill="#bedde9"/>
<rect x="2125.99" y="1417.19" width="104.16" height="33.34" fill="#b6d9e7"/>
<rect x="2230.14" y="1417.19" width="104.16" height="33.34" fill="#bedde9"/>
<rect x="251.20" y="1450.53" width="104.16" height="33.34" fill="#bedde9"/>
<rect x="355.36" y="1450.53" width="104.16" height="33.34" fill="#bedde9"/>
<rect x="459.51" y="1450.53" width="104.16" height="33.34" fill="#bedde9"/>
<rect x="563.66" y="1450.53" width="104.16" height="33.34" fill="#bedde9"/>
<rect x="667.82" y="1450.53" width="104.16" height="33.34" fill="#bedde9"/>
<rect x="771.97" y="1450.53" width="104.16" height="33.34" fill="#bedde9"/>
<rect x="876.13" y="1450.53" width="104.16" height="33.34" fill="#bedde9"/>
<rect x="980.29" y="1450.53" width="104.16" height="33.34" fill="#bedde9"/>
<rect x="1084.44" y="1450.53" width="104.16" height="33.34" fill="#bedde9"/>
<rect x="1188.60" y="1450.53" width="104.16" height="33.34" fill="#bedde9"/>
<rect x="1292.75" y="1450.53" width="104.16" height="33.34" fill="#bedde9"/>
<rect x="1396.90" y="1450.53" width="104.16" height="33.34" fill="#bedde9"/>
<rect x="1501.06" y="1450.53" width="104.16" height="33.34" fill="#afd5e4"/>
<rect x="1605.22" y="1450.53" width="104.16" height="33.34" fill="#bedde9"/>
<rect x="1709.37" y="1450.53" width="104.16" height="33.34" fill="#bedde9"/>
<rect x="1813.53" y="1450.53" width="104.16" height="33.34" fill="#bedde9"/>
<rect x="1917.68" y="1450.53" width="104.16" height="33.34" fill="#bedde9"/>
<rect x="2021.84" y="1450.53" width="104.16" height="33.34" fill="#bedde9"/>
<rect x="2125.99" y="1450.53" width="104.16" height="33.34" fill="#bedde9"/>
<rect x="2230.14" y="1450.53" width="104.16" height="33.34" fill="#bedde9"/>
<rect x="251.20" y="1483.87" width="104.16" height="33.34" fill="#bedde9"/>
<rect x="355.36" y="1483.87" width="104.16" height="33.34" fill="#bedde9"/>
<rect x="459.51" y="1483.87" width="104.16" height="33.34" fill="#bedde9"/>
<rect x="563.66" y="1483.87" width="104.16" height="33.34" fill="#bedde9"/>
<rect x="667.82" y="1483.87" width="104.16" height="33.34" fill="#bedde9"/>
<rect x="771.97" y="1483.87" width="104.16" height="33.34" fill="#bedde9"/>
<rect x="876.13" y="1483.87" width="104.16" height="33.34" fill="#bedde9"/>
<rect x="980.29" y="1483.87" width="104.16" height="33.34" fill="#bedde9"/>
<rect x="1084.44" y="1483.87" width="104.16" height="33.34" fill="#bedde9"/>
<rect x="1188.60" y="1483.87" width="104.16" height="33.34" fill="#bedde9"/>
<rect x="1292.75" y="1483.87" width="104.16" height="33.34" fill="#bedde9"/>
<rect x="1396.90" y="1483.87" width="104.16" height="33.34" fill="#bedde9"/>
<rect x="1501.06" y="1483.87" width="104.16" height="33.34" fill="#bedde9"/>
<rect x="1605.22" y="1483.87" width="104.16" height="33.34" fill="#afd5e4"/>
<rect x="1709.37" y="1483.87" width="104.16" height="33.34" fill="#bedde9"/>
<rect x="1813.53" y="1483.87" width="104.16" height="33.34" fill="#bedde9"/>
<rect x="1917.68" y="1483.87" width="104.16" height="33.34" fill="#bedde9"/>
<rect x="2021.84" y="1483.87" width="104.16" height="33.34" fill="#bedde9"/>
<rect x="2125.99" y="1483.87" width="104.16" height="33.34" fill="#bedde9"/>
<rect x="2230.14" y="1483.87" width="104.16" height="33.34" fill="#bbdbe8"/>
<rect x="251.20" y="1517.20" width="104.16" height="33.34" fill="#bedde9"/>
<rect x="355.36" y="1517.20" width="104.16" height="33.34" fill="#bedde9"/>
<rect x="459.51" y="1517.20" width="104.16" height="33.34" fill="#bbdbe8"/>
<rect x="563.66" y="1517.20" width="104.16" height="33.34" fill="#bedde9"/>
<rect x="667.82" y="1517.20" width="104.16" height="33.34" fill="#bedde9"/>
<rect x="771.97" y="1517.20" width="104.16" height="33.34" fill="#bedde9"/>
<rect x="876.13" y="1517.20" width="104.16" height="33.34" fill="#bedde9"/>
<rect x="980.29" y="1517.20" width="104.16" height="33.34" fill="#bedde9"/>
<rect x="1084.44" y="1517.20" width="104.16" height="33.34" fill="#bedde9"/>
<rect x="1188.60" y="1517.20" width="104.16" height="33.34" fill="#bedde9"/>
<rect x="1292.75" y="1517.20" width="104.16" height="33.34" fill="#bedde9"/>
<rect x="1396.90" y="1517.20" width="104.16" height="33.34" fill="#b9dae8"/>
<rect x="1501.06" y="1517.20" width="104.16" height="33.34" fill="#bedde9"/>
<rect x="1605.22" y="1517.20" width="104.16" height="33.34" fill="#b6d9e7"/>
<rect x="1709.37" y="1517.20" width="104.16" height="33.34" fill="#bedde9"/>
<rect x="1813.53" y="1517.20" width="104.16" height="33.34" fill="#bedde9"/>
<rect x="1917.68" y="1517.20" width="104.16" height="33.34" fill="#bedde9"/>
<rect x="2021.84" y="1517.20" width="104.16" height="33.34" fill="#bedde9"/>
<rect x="2125.99" y="1517.20" width="104.16" height="33.34" fill="#afd5e4"/>
<rect x="2230.14" y="1517.20" width="104.16" height="33.34" fill="#bedde9"/>
<rect x="251.20" y="1550.54" width="104.16" height="33.34" fill="#bedde9"/>
<rect x="355.36" y="1550.54" width="104.16" height="33.34" fill="#bbdbe8"/>
<rect x="459.51" y="1550.54" width="104.16" height="33.34" fill="#bedde9"/>
<rect x="563.66" y="1550.54" width="104.16" height="33.34" fill="#bbdbe8"/>
<rect x="667.82" y="1550.54" width="104.16" height="33.34" fill="#b6d9e7"/>
<rect x="771.97" y="1550.54" width="104.16" height="33.34" fill="#bedde9"/>
<rect x="876.13" y="1550.54" width="104.16" height="33.34" fill="#b6d9e7"/>
<rect x="980.29" y="1550.54" width="104.16" height="33.34" fill="#b1d6e5"/>
<rect x="1084.44" y="1550.54" width="104.16" height="33.34" fill="#bedde9"/>
<rect x="1188.60" y="1550.54" width="104.16" height="33.34" fill="#bedde9"/>
<rect x="1292.75" y="1550.54" width="104.16" height="33.34" fill="#bedde9"/>
<rect x="1396.90" y="1550.54" width="104.16" height="33.34" fill="#bedde9"/>
<rect x="1501.06" y="1550.54" width="104.16" height="33.34" fill="#bedde9"/>
<rect x="1605.22" y="1550.54" width="104.16" height="33.34" fill="#bedde9"/>
<rect x="1709.37" y="1550.54" width="104.16" height="33.34" fill="#bedde9"/>
<rect x="1813.53" y="1550.54" width="104.16" height="33.34" fill="#bedde9"/>
<rect x="1917.68" y="1550.54" width="104.16" height="33.34" fill="#bedde9"/>
<rect x="2021.84" y="1550.54" width="104.16" height="33.34" fill="#bedde9"/>
<rect x="2125.99" y="1550.54" width="104.16" height="33.34" fill="#bedde9"/>
<rect x="2230.14" y="1550.54" width="104.16" height="33.34" fill="#bedde9"/>
<rect x="251.20" y="1583.87" width="104.16" height="33.34" fill="#bedde9"/>
<rect x="355.36" y="1583.87" width="104.16" height="33.34" fill="#bedde9"/>
<rect x="459.51" y="1583.87" width="104.16" height="33.34" fill="#bedde9"/>
<rect x="563.66" y="1583.87" width="104.16" height="33.34" fill="#bedde9"/>
<rect x="667.82" y="1583.87" width="104.16" height="33.34" fill="#bbdbe8"/>
<rect x="771.97" y="1583.87" width="104.16" height="33.34" fill="#bbdbe8"/>
<rect x="876.13" y="1583.87" width="104.16" height="33.34" fill="#bedde9"/>
<rect x="980.29" y="1583.87" width="104.16" height="33.34" fill="#bedde9"/>
<rect x="1084.44" y="1583.87" width="104.16" height="33.34" fill="#bbdbe8"/>
<rect x="1188.60" y="1583.87" width="104.16" height="33.34" fill="#bedde9"/>
<rect x="1292.75" y="1583.87" width="104.16" height="33.34" fill="#bedde9"/>
<rect x="1396.90" y="1583.87" width="104.16" height="33.34" fill="#bedde9"/>
<rect x="1501.06" y="1583.87" width="104.16" height="33.34" fill="#bedde9"/>
<rect x="1605.22" y="1583.87" width="104.16" height="33.34" fill="#bedde9"/>
<rect x="1709.37" y="1583.87" width="104.16" height="33.34" fill="#bedde9"/>
<rect x="1813.53" y="1583.87" width="104.16" height="33.34" fill="#bedde9"/>
<rect x="1917.68" y="1583.87" width="104.16" height="33.34" fill="#bedde9"/>
<rect x="2021.84" y="1583.87" width="104.16" height="33.34" fill="#bedde9"/>
<rect x="2125.99" y="1583.87" width="104.16" height="33.34" fill="#bbdbe8"/>
<rect x="2230.14" y="1583.87" width="104.16" height="33.34" fill="#bedde9"/>
<rect x="251.20" y="1617.20" width="104.16" height="33.34" fill="#bbdbe8"/>
<rect x="355.36" y="1617.20" width="104.16" height="33.34" fill="#bedde9"/>
<rect x="459.51" y="1617.20" width="104.16" height="33.34" fill="#bedde9"/>
<rect x="563.66" y="1617.20" width="104.16" height="33.34" fill="#bedde9"/>
<rect x="667.82" y="1617.20" width="104.16" height="33.34" fill="#bbdbe8"/>
<rect x="771.97" y="1617.20" width="104.16" height="33.34" fill="#bedde9"/>
<rect x="876.13" y="1617.20" width="104.16" height="33.34" fill="#bedde9"/>
<rect x="980.29" y="1617.20" width="104.16" height="33.34" fill="#bedde9"/>
<rect x="1084.44" y="1617.20" width="104.16" height="33.34" fill="#b1d6e5"/>
<rect x="1188.60" y="1617.20" width="104.16" height="33.34" fill="#bedde9"/>
<rect x="1292.75" y="1617.20" width="104.16" height="33.34" fill="#bedde9"/>
<rect x="1396.90" y="1617.20" width="104.16" height="33.34" fill="#b9dae8"/>
<rect x="1501.06" y="1617.20" width="104.16" height="33.34" fill="#bedde9"/>
<rect x="1605.22" y="1617.20" width="104.16" height="33.34" fill="#bbdbe8"/>
<rect x="1709.37" y="1617.20" width="104.16" height="33.34" fill="#bedde9"/>
<rect x="1813.53" y="1617.20" width="104.16" height="33.34" fill="#bedde9"/>
<rect x="1917.68" y="1617.20" width="104.16" height="33.34" fill="#bedde9"/>
<rect x="2021.84" y="1617.20" width="104.16" height="33.34" fill="#bedde9"/>
<rect x="2125.99" y="1617.20" width="104.16" height="33.34" fill="#bedde9"/>
<rect x="2230.14" y="1617.20" width="104.16" height="33.34" fill="#bedde9"/>
<rect x="251.20" y="1650.54" width="104.16" height="33.34" fill="#bedde9"/>
<rect x="355.36" y="1650.54" width="104.16" height="33.34" fill="#bedde9"/>
<rect x="459.51" y="1650.54" width="104.16" height="33.34" fill="#b9dae8"/>
<rect x="563.66" y="1650.54" width="104.16" height="33.34" fill="#bedde9"/>
<rect x="667.82" y="1650.54" width="104.16" height="33.34" fill="#bedde9"/>
<rect x="771.97" y="1650.54" width="104.16" height="33.34" fill="#b9dae8"/>
<rect x="876.13" y="1650.54" width="104.16" height="33.34" fill="#bedde9"/>
<rect x="980.29" y="1650.54" width="104.16" height="33.34" fill="#bedde9"/>
<rect x="1084.44" y="1650.54" width="104.16" height="33.34" fill="#bedde9"/>
<rect x="1188.60" y="1650.54" width="104.16" height="33.34" fill="#bedde9"/>
<rect x="1292.75" y="1650.54" width="104.16" height="33.34" fill="#bedde9"/>
<rect x="1396.90" y="1650.54" width="104.16" height="33.34" fill="#bedde9"/>
<rect x="1501.06" y="1650.54" width="104.16" height="33.34" fill="#bedde9"/>
<rect x="1605.22" y="1650.54" width="104.16" height="33.34" fill="#bedde9"/>
<rect x="1709.37" y="1650.54" width="104.16" height="33.34" fill="#bedde9"/>
<rect x="1813.53" y="1650.54" width="104.16" height="33.34" fill="#bedde9"/>
<rect x="1917.68" y="1650.54" width="104.16" height="33.34" fill="#bedde9"/>
<rect x="2021.84" y="1650.54" width="104.16" height="33.34" fill="#bedde9"/>
<rect x="2125.99" y="1650.54" width="104.16" height="33.34" fill="#bedde9"/>
<rect x="2230.14" y="1650.54" width="104.16" height="33.34" fill="#bedde9"/>
<rect x="251.20" y="1683.88" width="104.16" height="33.34" fill="#bedde9"/>
<rect x="355.36" y="1683.88" width="104.16" height="33.34" fill="#bcdce9"/>
<rect x="459.51" y="1683.88" width="104.16" height="33.34" fill="#b9dae8"/>
<rect x="563.66" y="1683.88" width="104.16" height="33.34" fill="#bedde9"/>
<rect x="667.82" y="1683.88" width="104.16" height="33.34" fill="#bedde9"/>
<rect x="771.97" y="1683.88" width="104.16" height="33.34" fill="#bedde9"/>
<rect x="876.13" y="1683.88" width="104.16" height="33.34" fill="#bedde9"/>
<rect x="980.29" y="1683.88" width="104.16" height="33.34" fill="#bedde9"/>
<rect x="1084.44" y="1683.88" width="104.16" height="33.34" fill="#bedde9"/>
<rect x="1188.60" y="1683.88" width="104.16" height="33.34" fill="#bedde9"/>
<rect x="1292.75" y="1683.88" width="104.16" height="33.34" fill="#bedde9"/>
<rect x="1396.90" y="1683.88" width="104.16" height="33.34" fill="#bedde9"/>
<rect x="1501.06" y="1683.88" width="104.16" height="33.34" fill="#bedde9"/>
<rect x="1605.22" y="1683.88" width="104.16" height="33.34" fill="#bedde9"/>
<rect x="1709.37" y="1683.88" width="104.16" height="33.34" fill="#bedde9"/>
<rect x="1813.53" y="1683.88" width="104.16" height="33.34" fill="#bedde9"/>
<rect x="1917.68" y="1683.88" width="104.16" height="33.34" fill="#bedde9"/>
<rect x="2021.84" y="1683.88" width="104.16" height="33.34" fill="#bedde9"/>
<rect x="2125.99" y="1683.88" width="104.16" height="33.34" fill="#bedde9"/>
<rect x="2230.14" y="1683.88" width="104.16" height="33.34" fill="#bedde9"/>
<rect x="251.20" y="1717.21" width="104.16" height="33.34" fill="#bedde9"/>
<rect x="355.36" y="1717.21" width="104.16" height="33.34" fill="#bedde9"/>
<rect x="459.51" y="1717.21" width="104.16" height="33.34" fill="#bedde9"/>
<rect x="563.66" y="1717.21" width="104.16" height="33.34" fill="#bedde9"/>
<rect x="667.82" y="1717.21" width="104.16" height="33.34" fill="#bedde9"/>
<rect x="771.97" y="1717.21" width="104.16" height="33.34" fill="#bedde9"/>
<rect x="876.13" y="1717.21" width="104.16" height="33.34" fill="#bedde9"/>
<rect x="980.29" y="1717.21" width="104.16" height="33.34" fill="#bedde9"/>
<rect x="1084.44" y="1717.21" width="104.16" height="33.34" fill="#bedde9"/>
<rect x="1188.60" y="1717.21" width="104.16" height="33.34" fill="#bedde9"/>
<rect x="1292.75" y="1717.21" width="104.16" height="33.34" fill="#b9dae8"/>
<rect x="1396.90" y="1717.21" width="104.16" height="33.34" fill="#bedde9"/>
<rect x="1501.06" y="1717.21" width="104.16" height="33.34" fill="#bedde9"/>
<rect x="1605.22" y="1717.21" width="104.16" height="33.34" fill="#bedde9"/>
<rect x="1709.37" y="1717.21" width="104.16" height="33.34" fill="#bedde9"/>
<rect x="1813.53" y="1717.21" width="104.16" height="33.34" fill="#bedde9"/>
<rect x="1917.68" y="1717.21" width="104.16" height="33.34" fill="#bedde9"/>
<rect x="2021.84" y="1717.21" width="104.16" height="33.34" fill="#bedde9"/>
<rect x="2125.99" y="1717.21" width="104.16" height="33.34" fill="#bedde9"/>
<rect x="2230.14" y="1717.21" width="104.16" height="33.34" fill="#bedde9"/>
<rect x="251.20" y="1750.55" width="104.16" height="33.34" fill="#bedde9"/>
<rect x="355.36" y="1750.55" width="104.16" height="33.34" fill="#bedde9"/>
<rect x="459.51" y="1750.55" width="104.16" height="33.34" fill="#bedde9"/>
<rect x="563.66" y="1750.55" width="104.16" height="33.34" fill="#bedde9"/>
<rect x="667.82" y="1750.55" width="104.16" height="33.34" fill="#bedde9"/>
<rect x="771.97" y="1750.55" width="104.16" height="33.34" fill="#bedde9"/>
<rect x="876.13" y="1750.55" width="104.16" height="33.34" fill="#b9dae8"/>
<rect x="980.29" y="1750.55" width="104.16" height="33.34" fill="#bbdbe8"/>
<rect x="1084.44" y="1750.55" width="104.16" height="33.34" fill="#bedde9"/>
<rect x="1188.60" y="1750.55" width="104.16" height="33.34" fill="#bedde9"/>
<rect x="1292.75" y="1750.55" width="104.16" height="33.34" fill="#bedde9"/>
<rect x="1396.90" y="1750.55" width="104.16" height="33.34" fill="#bedde9"/>
<rect x="1501.06" y="1750.55" width="104.16" height="33.34" fill="#bedde9"/>
<rect x="1605.22" y="1750.55" width="104.16" height="33.34" fill="#bedde9"/>
<rect x="1709.37" y="1750.55" width="104.16" height="33.34" fill="#bedde9"/>
<rect x="1813.53" y="1750.55" width="104.16" height="33.34" fill="#bedde9"/>
<rect x="1917.68" y="1750.55" width="104.16" height="33.34" fill="#bedde9"/>
<rect x="2021.84" y="1750.55" width="104.16" height="33.34" fill="#bedde9"/>
<rect x="2125.99" y="1750.55" width="104.16" height="33.34" fill="#bedde9"/>
<rect x="2230.14" y="1750.55" width="104.16" height="33.34" fill="#bedde9"/>
<rect x="251.20" y="1783.88" width="104.16" height="33.34" fill="#bedde9"/>
<rect x="355.36" y="1783.88" width="104.16" height="33.34" fill="#bedde9"/>
<rect x="459.51" y="1783.88" width="104.16" height="33.34" fill="#bbdbe8"/>
<rect x="563.66" y="1783.88" width="104.16" height="33.34" fill="#bedde9"/>
<rect x="667.82" y="1783.88" width="104.16" height="33.34" fill="#bbdbe8"/>
<rect x="771.97" y="1783.88" width="104.16" height="33.34" fill="#bedde9"/>
<rect x="876.13" y="1783.88" width="104.16" height="33.34" fill="#bedde9"/>
<rect x="980.29" y="1783.88" width="104.16" height="33.34" fill="#bedde9"/>
<rect x="1084.44" y="1783.88" width="104.16" height="33.34" fill="#bedde9"/>
<rect x="1188.60" y="1783.88" width="104.16" height="33.34" fill="#bedde9"/>
<rect x="1292.75" y="1783.88" width="104.16" height="33.34" fill="#bedde9"/>
<rect x="1396.90" y="1783.88" width="104.16" height="33.34" fill="#bedde9"/>
<rect x="1501.06" y="1783.88" width="104.16" height="33.34" fill="#bedde9"/>
<rect x="1605.22" y="1783.88" width="104.16" height="33.34" fill="#bedde9"/>
<rect x="1709.37" y="1783.88" width="104.16" height="33.34" fill="#bedde9"/>
<rect x="1813.53" y="1783.88" width="104.16" height="33.34" fill="#bedde9"/>
<rect x="1917.68" y="1783.88" width="104.16" height="33.34" fill="#bedde9"/>
<rect x="2021.84" y="1783.88" width="104.16" height="33.34" fill="#bedde9"/>
<rect x="2125.99" y="1783.88" width="104.16" height="33.34" fill="#bedde9"/>
<rect x="2230.14" y="1783.88" width="104.16" height="33.34" fill="#bedde9"/>
<rect x="251.20" y="1817.22" width="104.16" height="33.34" fill="#bedde9"/>
<rect x="355.36" y="1817.22" width="104.16" height="33.34" fill="#bedde9"/>
<rect x="459.51" y="1817.22" width="104.16" height="33.34" fill="#bbdbe8"/>
<rect x="563.66" y="1817.22" width="104.16" height="33.34" fill="#bedde9"/>
<rect x="667.82" y="1817.22" width="104.16" height="33.34" fill="#bbdbe8"/>
<rect x="771.97" y="1817.22" width="104.16" height="33.34" fill="#bedde9"/>
<rect x="876.13" y="1817.22" width="104.16" height="33.34" fill="#bedde9"/>
<rect x="980.29" y="1817.22" width="104.16" height="33.34" fill="#bedde9"/>
<rect x="1084.44" y="1817.22" width="104.16" height="33.34" fill="#bedde9"/>
<rect x="1188.60" y="1817.22" width="104.16" height="33.34" fill="#bedde9"/>
<rect x="1292.75" y="1817.22" width="104.16" height="33.34" fill="#bedde9"/>
<rect x="1396.90" y="1817.22" width="104.16" height="33.34" fill="#bedde9"/>
<rect x="1501.06" y="1817.22" width="104.16" height="33.34" fill="#bedde9"/>
<rect x="1605.22" y="1817.22" width="104.16" height="33.34" fill="#bedde9"/>
<rect x="1709.37" y="1817.22" width="104.16" height="33.34" fill="#bedde9"/>
<rect x="1813.53" y="1817.22" width="104.16" height="33.34" fill="#bedde9"/>
<rect x="1917.68" y="1817.22" width="104.16" height="33.34" fill="#bedde9"/>
<rect x="2021.84" y="1817.22" width="104.16" height="33.34" fill="#bedde9"/>
<rect x="2125.99" y="1817.22" width="104.16" height="33.34" fill="#bedde9"/>
<rect x="2230.14" y="1817.22" width="104.16" height="33.34" fill="#bedde9"/>
<rect x="251.20" y="1850.55" width="104.16" height="33.34" fill="#bedde9"/>
<rect x="355.36" y="1850.55" width="104.16" height="33.34" fill="#bedde9"/>
<rect x="459.51" y="1850.55" width="104.16" height="33.34" fill="#bedde9"/>
<rect x="563.66" y="1850.55" width="104.16" height="33.34" fill="#bedde9"/>
<rect x="667.82" y="1850.55" width="104.16" height="33.34" fill="#bedde9"/>
<rect x="771.97" y="1850.55" width="104.16" height="33.34" fill="#bedde9"/>
<rect x="876.13" y="1850.55" width="104.16" height="33.34" fill="#bedde9"/>
<rect x="980.29" y="1850.55" width="104.16" height="33.34" fill="#bedde9"/>
<rect x="1084.44" y="1850.55" width="104.16" height="33.34" fill="#bedde9"/>
<rect x="1188.60" y="1850.55" width="104.16" height="33.34" fill="#bedde9"/>
<rect x="1292.75" y="1850.55" width="104.16" height="33.34" fill="#bedde9"/>
<rect x="1396.90" y="1850.55" width="104.16" height="33.34" fill="#bedde9"/>
<rect x="1501.06" y="1850.55" width="104.16" height="33.34" fill="#bedde9"/>
<rect x="1605.22" y="1850.55" width="104.16" height="33.34" fill="#bedde9"/>
<rect x="1709.37" y="1850.55" width="104.16" height="33.34" fill="#bedde9"/>
<rect x="1813.53" y="1850.55" width="104.16" height="33.34" fill="#bedde9"/>
<rect x="1917.68" y="1850.55" width="104.16" height="33.34" fill="#bedde9"/>
<rect x="2021.84" y="1850.55" width="104.16" height="33.34" fill="#bcdce9"/>
<rect x="2125.99" y="1850.55" width="104.16" height="33.34" fill="#bedde9"/>
<rect x="2230.14" y="1850.55" width="104.16" height="33.34" fill="#bedde9"/>
<rect x="251.20" y="1883.88" width="104.16" height="33.34" fill="#bedde9"/>
<rect x="355.36" y="1883.88" width="104.16" height="33.34" fill="#bedde9"/>
<rect x="459.51" y="1883.88" width="104.16" height="33.34" fill="#bedde9"/>
<rect x="563.66" y="1883.88" width="104.16" height="33.34" fill="#bedde9"/>
<rect x="667.82" y="1883.88" width="104.16" height="33.34" fill="#bedde9"/>
<rect x="771.97" y="1883.88" width="104.16" height="33.34" fill="#bedde9"/>
<rect x="876.13" y="1883.88" width="104.16" height="33.34" fill="#bedde9"/>
<rect x="980.29" y="1883.88" width="104.16" height="33.34" fill="#bedde9"/>
<rect x="1084.44" y="1883.88" width="104.16" height="33.34" fill="#bedde9"/>
<rect x="1188.60" y="1883.88" width="104.16" height="33.34" fill="#bedde9"/>
<rect x="1292.75" y="1883.88" width="104.16" height="33.34" fill="#bedde9"/>
<rect x="1396.90" y="1883.88" width="104.16" height="33.34" fill="#bedde9"/>
<rect x="1501.06" y="1883.88" width="104.16" height="33.34" fill="#bedde9"/>
<rect x="1605.22" y="1883.88" width="104.16" height="33.34" fill="#bedde9"/>
<rect x="1709.37" y="1883.88" width="104.16" height="33.34" fill="#bedde9"/>
<rect x="1813.53" y="1883.88" width="104.16" height="33.34" fill="#bedde9"/>
<rect x="1917.68" y="1883.88" width="104.16" height="33.34" fill="#bedde9"/>
<rect x="2021.84" y="1883.88" width="104.16" height="33.34" fill="#bedde9"/>
<rect x="2125.99" y="1883.88" width="104.16" height="33.34" fill="#bedde9"/>
<rect x="2230.14" y="1883.88" width="104.16" height="33.34" fill="#bedde9"/>
<rect x="251.20" y="1917.22" width="104.16" height="33.34" fill="#bedde9"/>
<rect x="355.36" y="1917.22" width="104.16" height="33.34" fill="#bedde9"/>
<rect x="459.51" y="1917.22" width="104.16" height="33.34" fill="#bedde9"/>
<rect x="563.66" y="1917.22" width="104.16" height="33.34" fill="#bedde9"/>
<rect x="667.82" y="1917.22" width="104.16" height="33.34" fill="#bedde9"/>
<rect x="771.97" y="1917.22" width="104.16" height="33.34" fill="#bedde9"/>
<rect x="876.13" y="1917.22" width="104.16" height="33.34" fill="#bedde9"/>
<rect x="980.29" y="1917.22" width="104.16" height="33.34" fill="#bedde9"/>
<rect x="1084.44" y="1917.22" width="104.16" height="33.34" fill="#bedde9"/>
<rect x="1188.60" y="1917.22" width="104.16" height="33.34" fill="#bedde9"/>
<rect x="1292.75" y="1917.22" width="104.16" height="33.34" fill="#bedde9"/>
<rect x="1396.90" y="1917.22" width="104.16" height="33.34" fill="#bedde9"/>
<rect x="1501.06" y="1917.22" width="104.16" height="33.34" fill="#bedde9"/>
<rect x="1605.22" y="1917.22" width="104.16" height="33.34" fill="#bedde9"/>
<rect x="1709.37" y="1917.22" width="104.16" height="33.34" fill="#bedde9"/>
<rect x="1813.53" y="1917.22" width="104.16" height="33.34" fill="#bedde9"/>
<rect x="1917.68" y="1917.22" width="104.16" height="33.34" fill="#bedde9"/>
<rect x="2021.84" y="1917.22" width="104.16" height="33.34" fill="#bedde9"/>
<rect x="2125.99" y="1917.22" width="104.16" height="33.34" fill="#bedde9"/>
<rect x="2230.14" y="1917.22" width="104.16" height="33.34" fill="#bedde9"/>
<rect x="251.20" y="1950.56" width="104.16" height="33.34" fill="#bedde9"/>
<rect x="355.36" y="1950.56" width="104.16" height="33.34" fill="#bedde9"/>
<rect x="459.51" y="1950.56" width="104.16" height="33.34" fill="#bedde9"/>
<rect x="563.66" y="1950.56" width="104.16" height="33.34" fill="#bedde9"/>
<rect x="667.82" y="1950.56" width="104.16" height="33.34" fill="#bedde9"/>
<rect x="771.97" y="1950.56" width="104.16" height="33.34" fill="#bedde9"/>
<rect x="876.13" y="1950.56" width="104.16" height="33.34" fill="#bedde9"/>
<rect x="980.29" y="1950.56" width="104.16" height="33.34" fill="#bedde9"/>
<rect x="1084.44" y="1950.56" width="104.16" height="33.34" fill="#bedde9"/>
<rect x="1188.60" y="1950.56" width="104.16" height="33.34" fill="#bedde9"/>
<rect x="1292.75" y="1950.56" width="104.16" height="33.34" fill="#bedde9"/>
<rect x="1396.90" y="1950.56" width="104.16" height="33.34" fill="#bedde9"/>
<rect x="1501.06" y="1950.56" width="104.16" height="33.34" fill="#bedde9"/>
<rect x="1605.22" y="1950.56" width="104.16" height="33.34" fill="#bedde9"/>
<rect x="1709.37" y="1950.56" width="104.16" height="33.34" fill="#bedde9"/>
<rect x="1813.53" y="1950.56" width="104.16" height="33.34" fill="#bedde9"/>
<rect x="1917.68" y="1950.56" width="104.16" height="33.34" fill="#bedde9"/>
<rect x="2021.84" y="1950.56" width="104.16" height="33.34" fill="#bedde9"/>
<rect x="2125.99" y="1950.56" width="104.16" height="33.34" fill="#bedde9"/>
<rect x="2230.14" y="1950.56" width="104.16" height="33.34" fill="#bedde9"/>
<rect x="251.20" y="1983.89" width="104.16" height="33.34" fill="#bedde9"/>
<rect x="355.36" y="1983.89" width="104.16" height="33.34" fill="#bedde9"/>
<rect x="459.51" y="1983.89" width="104.16" height="33.34" fill="#bedde9"/>
<rect x="563.66" y="1983.89" width="104.16" height="33.34" fill="#bedde9"/>
<rect x="667.82" y="1983.89" width="104.16" height="33.34" fill="#bedde9"/>
<rect x="771.97" y="1983.89" width="104.16" height="33.34" fill="#bedde9"/>
<rect x="876.13" y="1983.89" width="104.16" height="33.34" fill="#bedde9"/>
<rect x="980.29" y="1983.89" width="104.16" height="33.34" fill="#bedde9"/>
<rect x="1084.44" y="1983.89" width="104.16" height="33.34" fill="#bedde9"/>
<rect x="1188.60" y="1983.89" width="104.16" height="33.34" fill="#bedde9"/>
<rect x="1292.75" y="1983.89" width="104.16" height="33.34" fill="#bedde9"/>
<rect x="1396.90" y="1983.89" width="104.16" height="33.34" fill="#bedde9"/>
<rect x="1501.06" y="1983.89" width="104.16" height="33.34" fill="#bedde9"/>
<rect x="1605.22" y="1983.89" width="104.16" height="33.34" fill="#bedde9"/>
<rect x="1709.37" y="1983.89" width="104.16" height="33.34" fill="#bedde9"/>
<rect x="1813.53" y="1983.89" width="104.16" height="33.34" fill="#bedde9"/>
<rect x="1917.68" y="1983.89" width="104.16" height="33.34" fill="#bedde9"/>
<rect x="2021.84" y="1983.89" width="104.16" height="33.34" fill="#bedde9"/>
<rect x="2125.99" y="1983.89" width="104.16" height="33.34" fill="#bedde9"/>
<rect x="2230.14" y="1983.89" width="104.16" height="33.34" fill="#bedde9"/>
<rect x="251.20" y="2017.23" width="104.16" height="33.34" fill="#bedde9"/>
<rect x="355.36" y="2017.23" width="104.16" height="33.34" fill="#bedde9"/>
<rect x="459.51" y="2017.23" width="104.16" height="33.34" fill="#bedde9"/>
<rect x="563.66" y="2017.23" width="104.16" height="33.34" fill="#bedde9"/>
<rect x="667.82" y="2017.23" width="104.16" height="33.34" fill="#bedde9"/>
<rect x="771.97" y="2017.23" width="104.16" height="33.34" fill="#bedde9"/>
<rect x="876.13" y="2017.23" width="104.16" height="33.34" fill="#bedde9"/>
<rect x="980.29" y="2017.23" width="104.16" height="33.34" fill="#bedde9"/>
<rect x="1084.44" y="2017.23" width="104.16" height="33.34" fill="#bedde9"/>
<rect x="1188.60" y="2017.23" width="104.16" height="33.34" fill="#bedde9"/>
<rect x="1292.75" y="2017.23" width="104.16" height="33.34" fill="#bedde9"/>
<rect x="1396.90" y="2017.23" width="104.16" height="33.34" fill="#bedde9"/>
<rect x="1501.06" y="2017.23" width="104.16" height="33.34" fill="#bedde9"/>
<rect x="1605.22" y="2017.23" width="104.16" height="33.34" fill="#bedde9"/>
<rect x="1709.37" y="2017.23" width="104.16" height="33.34" fill="#bedde9"/>
<rect x="1813.53" y="2017.23" width="104.16" height="33.34" fill="#bedde9"/>
<rect x="1917.68" y="2017.23" width="104.16" height="33.34" fill="#bedde9"/>
<rect x="2021.84" y="2017.23" width="104.16" height="33.34" fill="#bedde9"/>
<rect x="2125.99" y="2017.23" width="104.16" height="33.34" fill="#bedde9"/>
<rect x="2230.14" y="2017.23" width="104.16" height="33.34" fill="#bedde9"/>
<rect x="251.20" y="2050.56" width="104.16" height="33.34" fill="#bedde9"/>
<rect x="355.36" y="2050.56" width="104.16" height="33.34" fill="#bedde9"/>
<rect x="459.51" y="2050.56" width="104.16" height="33.34" fill="#bedde9"/>
<rect x="563.66" y="2050.56" width="104.16" height="33.34" fill="#bedde9"/>
<rect x="667.82" y="2050.56" width="104.16" height="33.34" fill="#bedde9"/>
<rect x="771.97" y="2050.56" width="104.16" height="33.34" fill="#bedde9"/>
<rect x="876.13" y="2050.56" width="104.16" height="33.34" fill="#bedde9"/>
<rect x="980.29" y="2050.56" width="104.16" height="33.34" fill="#bedde9"/>
<rect x="1084.44" y="2050.56" width="104.16" height="33.34" fill="#bedde9"/>
<rect x="1188.60" y="2050.56" width="104.16" height="33.34" fill="#bedde9"/>
<rect x="1292.75" y="2050.56" width="104.16" height="33.34" fill="#bedde9"/>
<rect x="1396.90" y="2050.56" width="104.16" height="33.34" fill="#bedde9"/>
<rect x="1501.06" y="2050.56" width="104.16" height="33.34" fill="#bedde9"/>
<rect x="1605.22" y="2050.56" width="104.16" height="33.34" fill="#bedde9"/>
<rect x="1709.37" y="2050.56" width="104.16" height="33.34" fill="#bedde9"/>
<rect x="1813.53" y="2050.56" width="104.16" height="33.34" fill="#bedde9"/>
<rect x="1917.68" y="2050.56" width="104.16" height="33.34" fill="#bedde9"/>
<rect x="2021.84" y="2050.56" width="104.16" height="33.34" fill="#bedde9"/>
<rect x="2125.99" y="2050.56" width="104.16" height="33.34" fill="#bedde9"/>
<rect x="2230.14" y="2050.56" width="104.16" height="33.34" fill="#bedde9"/>
<rect x="251.20" y="2083.89" width="104.16" height="33.34" fill="#bedde9"/>
<rect x="355.36" y="2083.89" width="104.16" height="33.34" fill="#bedde9"/>
<rect x="459.51" y="2083.89" width="104.16" height="33.34" fill="#bedde9"/>
<rect x="563.66" y="2083.89" width="104.16" height="33.34" fill="#bedde9"/>
<rect x="667.82" y="2083.89" width="104.16" height="33.34" fill="#bedde9"/>
<rect x="771.97" y="2083.89" width="104.16" height="33.34" fill="#bedde9"/>
<rect x="876.13" y="2083.89" width="104.16" height="33.34" fill="#bedde9"/>
<rect x="980.29" y="2083.89" width="104.16" height="33.34" fill="#bedde9"/>
<rect x="1084.44" y="2083.89" width="104.16" height="33.34" fill="#bedde9"/>
<rect x="1188.60" y="2083.89" width="104.16" height="33.34" fill="#bedde9"/>
<rect x="1292.75" y="2083.89" width="104.16" height="33.34" fill="#bedde9"/>
<rect x="1396.90" y="2083.89" width="104.16" height="33.34" fill="#bedde9"/>
<rect x="1501.06" y="2083.89" width="104.16" height="33.34" fill="#bedde9"/>
<rect x="1605.22" y="2083.89" width="104.16" height="33.34" fill="#bedde9"/>
<rect x="1709.37" y="2083.89" width="104.16" height="33.34" fill="#bedde9"/>
<rect x="1813.53" y="2083.89" width="104.16" height="33.34" fill="#bedde9"/>
<rect x="1917.68" y="2083.89" width="104.16" height="33.34" fill="#bedde9"/>
<rect x="2021.84" y="2083.89" width="104.16" height="33.34" fill="#bedde9"/>
<rect x="2125.99" y="2083.89" width="104.16" height="33.34" fill="#bedde9"/>
<rect x="2230.14" y="2083.89" width="104.16" height="33.34" fill="#bedde9"/>
<rect x="251.20" y="2117.23" width="104.16" height="33.34" fill="#bedde9"/>
<rect x="355.36" y="2117.23" width="104.16" height="33.34" fill="#bbdbe8"/>
<rect x="459.51" y="2117.23" width="104.16" height="33.34" fill="#8fc3da"/>
<rect x="563.66" y="2117.23" width="104.16" height="33.34" fill="#87bfd8"/>
<rect x="667.82" y="2117.23" width="104.16" height="33.34" fill="#bbdbe8"/>
<rect x="771.97" y="2117.23" width="104.16" height="33.34" fill="#bedde9"/>
<rect x="876.13" y="2117.23" width="104.16" height="33.34" fill="#8fc3da"/>
<rect x="980.29" y="2117.23" width="104.16" height="33.34" fill="#bedde9"/>
<rect x="1084.44" y="2117.23" width="104.16" height="33.34" fill="#bedde9"/>
<rect x="1188.60" y="2117.23" width="104.16" height="33.34" fill="#bbdbe8"/>
<rect x="1292.75" y="2117.23" width="104.16" height="33.34" fill="#bbdbe8"/>
<rect x="1396.90" y="2117.23" width="104.16" height="33.34" fill="#a5cfe1"/>
<rect x="1501.06" y="2117.23" width="104.16" height="33.34" fill="#9dcbdf"/>
<rect x="1605.22" y="2117.23" width="104.16" height="33.34" fill="#acd3e4"/>
<rect x="1709.37" y="2117.23" width="104.16" height="33.34" fill="#afd5e4"/>
<rect x="1813.53" y="2117.23" width="104.16" height="33.34" fill="#bbdbe8"/>
<rect x="1917.68" y="2117.23" width="104.16" height="33.34" fill="#bbdbe8"/>
<rect x="2021.84" y="2117.23" width="104.16" height="33.34" fill="#aad2e3"/>
<rect x="2125.99" y="2117.23" width="104.16" height="33.34" fill="#aad2e3"/>
<rect x="2230.14" y="2117.23" width="104.16" height="33.34" fill="#b1d6e5"/>
<rect x="251.20" y="2150.57" width="104.16" height="33.34" fill="#bedde9"/>
<rect x="355.36" y="2150.57" width="104.16" height="33.34" fill="#bedde9"/>
<rect x="459.51" y="2150.57" width="104.16" height="33.34" fill="#bedde9"/>
<rect x="563.66" y="2150.57" width="104.16" height="33.34" fill="#7bb9d4"/>
<rect x="667.82" y="2150.57" width="104.16" height="33.34" fill="#bedde9"/>
<rect x="771.97" y="2150.57" width="104.16" height="33.34" fill="#bbdbe8"/>
<rect x="876.13" y="2150.57" width="104.16" height="33.34" fill="#bbdbe8"/>
<rect x="980.29" y="2150.57" width="104.16" height="33.34" fill="#bbdbe8"/>
<rect x="1084.44" y="2150.57" width="104.16" height="33.34" fill="#bedde9"/>
<rect x="1188.60" y="2150.57" width="104.16" height="33.34" fill="#bedde9"/>
<rect x="1292.75" y="2150.57" width="104.16" height="33.34" fill="#bedde9"/>
<rect x="1396.90" y="2150.57" width="104.16" height="33.34" fill="#bedde9"/>
<rect x="1501.06" y="2150.57" width="104.16" height="33.34" fill="#bedde9"/>
<rect x="1605.22" y="2150.57" width="104.16" height="33.34" fill="#bedde9"/>
<rect x="1709.37" y="2150.57" width="104.16" height="33.34" fill="#bedde9"/>
<rect x="1813.53" y="2150.57" width="104.16" height="33.34" fill="#bedde9"/>
<rect x="1917.68" y="2150.57" width="104.16" height="33.34" fill="#91c5db"/>
<rect x="2021.84" y="2150.57" width="104.16" height="33.34" fill="#a7d1e2"/>
<rect x="2125.99" y="2150.57" width="104.16" height="33.34" fill="#a5cfe1"/>
<rect x="2230.14" y="2150.57" width="104.16" height="33.34" fill="#bbdbe8"/>
<rect x="251.20" y="2183.90" width="104.16" height="33.34" fill="#4c9fc5"/>
<rect x="355.36" y="2183.90" width="104.16" height="33.34" fill="#5da8ca"/>
<rect x="459.51" y="2183.90" width="104.16" height="33.34" fill="#60aacb"/>
<rect x="563.66" y="2183.90" width="104.16" height="33.34" fill="#6eb2d0"/>
<rect x="667.82" y="2183.90" width="104.16" height="33.34" fill="#5da8ca"/>
<rect x="771.97" y="2183.90" width="104.16" height="33.34" fill="#4ea0c5"/>
<rect x="876.13" y="2183.90" width="104.16" height="33.34" fill="#58a6c9"/>
<rect x="980.29" y="2183.90" width="104.16" height="33.34" fill="#4ea0c5"/>
<rect x="1084.44" y="2183.90" width="104.16" height="33.34" fill="#53a3c7"/>
<rect x="1188.60" y="2183.90" width="104.16" height="33.34" fill="#7dbad5"/>
<rect x="1292.75" y="2183.90" width="104.16" height="33.34" fill="#b4d7e6"/>
<rect x="1396.90" y="2183.90" width="104.16" height="33.34" fill="#a5cfe1"/>
<rect x="1501.06" y="2183.90" width="104.16" height="33.34" fill="#67aecd"/>
<rect x="1605.22" y="2183.90" width="104.16" height="33.34" fill="#73b5d1"/>
<rect x="1709.37" y="2183.90" width="104.16" height="33.34" fill="#a7d1e2"/>
<rect x="1813.53" y="2183.90" width="104.16" height="33.34" fill="#bedde9"/>
<rect x="1917.68" y="2183.90" width="104.16" height="33.34" fill="#8ac1d9"/>
<rect x="2021.84" y="2183.90" width="104.16" height="33.34" fill="#80bbd5"/>
<rect x="2125.99" y="2183.90" width="104.16" height="33.34" fill="#aad2e3"/>
<rect x="2230.14" y="2183.90" width="104.16" height="33.34" fill="#afd5e4"/>
<rect x="251.20" y="2217.24" width="104.16" height="33.34" fill="#51a2c6"/>
<rect x="355.36" y="2217.24" width="104.16" height="33.34" fill="#51a2c6"/>
<rect x="459.51" y="2217.24" width="104.16" height="33.34" fill="#51a2c6"/>
<rect x="563.66" y="2217.24" width="104.16" height="33.34" fill="#85bed7"/>
<rect x="667.82" y="2217.24" width="104.16" height="33.34" fill="#479cc3"/>
<rect x="771.97" y="2217.24" width="104.16" height="33.34" fill="#60aacb"/>
<rect x="876.13" y="2217.24" width="104.16" height="33.34" fill="#76b6d2"/>
<rect x="980.29" y="2217.24" width="104.16" height="33.34" fill="#76b6d2"/>
<rect x="1084.44" y="2217.24" width="104.16" height="33.34" fill="#67aecd"/>
<rect x="1188.60" y="2217.24" width="104.16" height="33.34" fill="#a2cee0"/>
<rect x="1292.75" y="2217.24" width="104.16" height="33.34" fill="#bbdbe8"/>
<rect x="1396.90" y="2217.24" width="104.16" height="33.34" fill="#b9dae8"/>
<rect x="1501.06" y="2217.24" width="104.16" height="33.34" fill="#6eb2d0"/>
<rect x="1605.22" y="2217.24" width="104.16" height="33.34" fill="#85bed7"/>
<rect x="1709.37" y="2217.24" width="104.16" height="33.34" fill="#9bcade"/>
<rect x="1813.53" y="2217.24" width="104.16" height="33.34" fill="#b1d6e5"/>
<rect x="1917.68" y="2217.24" width="104.16" height="33.34" fill="#aad2e3"/>
<rect x="2021.84" y="2217.24" width="104.16" height="33.34" fill="#9bcade"/>
<rect x="2125.99" y="2217.24" width="104.16" height="33.34" fill="#bbdbe8"/>
<rect x="2230.14" y="2217.24" width="104.16" height="33.34" fill="#a7d1e2"/>
<rect x="251.20" y="2250.57" width="104.16" height="33.34" fill="#8ac1d9"/>
<rect x="355.36" y="2250.57" width="104.16" height="33.34" fill="#bedde9"/>
<rect x="459.51" y="2250.57" width="104.16" height="33.34" fill="#6aafce"/>
<rect x="563.66" y="2250.57" width="104.16" height="33.34" fill="#91c5db"/>
<rect x="667.82" y="2250.57" width="104.16" height="33.34" fill="#bedde9"/>
<rect x="771.97" y="2250.57" width="104.16" height="33.34" fill="#479cc3"/>
<rect x="876.13" y="2250.57" width="104.16" height="33.34" fill="#8fc3da"/>
<rect x="980.29" y="2250.57" width="104.16" height="33.34" fill="#80bbd5"/>
<rect x="1084.44" y="2250.57" width="104.16" height="33.34" fill="#8cc2d9"/>
<rect x="1188.60" y="2250.57" width="104.16" height="33.34" fill="#bbdbe8"/>
<rect x="1292.75" y="2250.57" width="104.16" height="33.34" fill="#bedde9"/>
<rect x="1396.90" y="2250.57" width="104.16" height="33.34" fill="#bedde9"/>
<rect x="1501.06" y="2250.57" width="104.16" height="33.34" fill="#91c5db"/>
<rect x="1605.22" y="2250.57" width="104.16" height="33.34" fill="#a5cfe1"/>
<rect x="1709.37" y="2250.57" width="104.16" height="33.34" fill="#a7d1e2"/>
<rect x="1813.53" y="2250.57" width="104.16" height="33.34" fill="#bedde9"/>
<rect x="1917.68" y="2250.57" width="104.16" height="33.34" fill="#bbdbe8"/>
<rect x="2021.84" y="2250.57" width="104.16" height="33.34" fill="#b6d9e7"/>
<rect x="2125.99" y="2250.57" width="104.16" height="33.34" fill="#bbdbe8"/>
<rect x="2230.14" y="2250.57" width="104.16" height="33.34" fill="#bbdbe8"/>
<rect x="251.20" y="2283.91" width="104.16" height="33.34" fill="#73b5d1"/>
<rect x="355.36" y="2283.91" width="104.16" height="33.34" fill="#67aecd"/>
<rect x="459.51" y="2283.91" width="104.16" height="33.34" fill="#5da8ca"/>
<rect x="563.66" y="2283.91" width="104.16" height="33.34" fill="#76b6d2"/>
<rect x="667.82" y="2283.91" width="104.16" height="33.34" fill="#76b6d2"/>
<rect x="771.97" y="2283.91" width="104.16" height="33.34" fill="#82bdd6"/>
<rect x="876.13" y="2283.91" width="104.16" height="33.34" fill="#7bb9d4"/>
<rect x="980.29" y="2283.91" width="104.16" height="33.34" fill="#80bbd5"/>
<rect x="1084.44" y="2283.91" width="104.16" height="33.34" fill="#85bed7"/>
<rect x="1188.60" y="2283.91" width="104.16" height="33.34" fill="#acd3e4"/>
<rect x="1292.75" y="2283.91" width="104.16" height="33.34" fill="#b6d9e7"/>
<rect x="1396.90" y="2283.91" width="104.16" height="33.34" fill="#bedde9"/>
<rect x="1501.06" y="2283.91" width="104.16" height="33.34" fill="#87bfd8"/>
<rect x="1605.22" y="2283.91" width="104.16" height="33.34" fill="#a5cfe1"/>
<rect x="1709.37" y="2283.91" width="104.16" height="33.34" fill="#b6d9e7"/>
<rect x="1813.53" y="2283.91" width="104.16" height="33.34" fill="#bbdbe8"/>
<rect x="1917.68" y="2283.91" width="104.16" height="33.34" fill="#bbdbe8"/>
<rect x="2021.84" y="2283.91" width="104.16" height="33.34" fill="#b4d7e6"/>
<rect x="2125.99" y="2283.91" width="104.16" height="33.34" fill="#bbdbe8"/>
<rect x="2230.14" y="2283.91" width="104.16" height="33.34" fill="#bbdbe8"/>
<rect x="251.20" y="2317.24" width="104.16" height="33.34" fill="#7bb9d4"/>
<rect x="355.36" y="2317.24" width="104.16" height="33.34" fill="#71b3d1"/>
<rect x="459.51" y="2317.24" width="104.16" height="33.34" fill="#6eb2d0"/>
<rect x="563.66" y="2317.24" width="104.16" height="33.34" fill="#87bfd8"/>
<rect x="667.82" y="2317.24" width="104.16" height="33.34" fill="#8cc2d9"/>
<rect x="771.97" y="2317.24" width="104.16" height="33.34" fill="#82bdd6"/>
<rect x="876.13" y="2317.24" width="104.16" height="33.34" fill="#7dbad5"/>
<rect x="980.29" y="2317.24" width="104.16" height="33.34" fill="#87bfd8"/>
<rect x="1084.44" y="2317.24" width="104.16" height="33.34" fill="#7dbad5"/>
<rect x="1188.60" y="2317.24" width="104.16" height="33.34" fill="#acd3e4"/>
<rect x="1292.75" y="2317.24" width="104.16" height="33.34" fill="#bbdbe8"/>
<rect x="1396.90" y="2317.24" width="104.16" height="33.34" fill="#bbdbe8"/>
<rect x="1501.06" y="2317.24" width="104.16" height="33.34" fill="#94c6dc"/>
<rect x="1605.22" y="2317.24" width="104.16" height="33.34" fill="#acd3e4"/>
<rect x="1709.37" y="2317.24" width="104.16" height="33.34" fill="#bedde9"/>
<rect x="1813.53" y="2317.24" width="104.16" height="33.34" fill="#bedde9"/>
<rect x="1917.68" y="2317.24" width="104.16" height="33.34" fill="#bbdbe8"/>
<rect x="2021.84" y="2317.24" width="104.16" height="33.34" fill="#b1d6e5"/>
<rect x="2125.99" y="2317.24" width="104.16" height="33.34" fill="#b9dae8"/>
<rect x="2230.14" y="2317.24" width="104.16" height="33.34" fill="#bbdbe8"/>
<rect x="251.20" y="2350.58" width="104.16" height="33.34" fill="#b4d7e6"/>
<rect x="355.36" y="2350.58" width="104.16" height="33.34" fill="#9dcbdf"/>
<rect x="459.51" y="2350.58" width="104.16" height="33.34" fill="#8ac1d9"/>
<rect x="563.66" y="2350.58" width="104.16" height="33.34" fill="#71b3d1"/>
<rect x="667.82" y="2350.58" width="104.16" height="33.34" fill="#acd3e4"/>
<rect x="771.97" y="2350.58" width="104.16" height="33.34" fill="#91c5db"/>
<rect x="876.13" y="2350.58" width="104.16" height="33.34" fill="#7dbad5"/>
<rect x="980.29" y="2350.58" width="104.16" height="33.34" fill="#6eb2d0"/>
<rect x="1084.44" y="2350.58" width="104.16" height="33.34" fill="#73b5d1"/>
<rect x="1188.60" y="2350.58" width="104.16" height="33.34" fill="#67aecd"/>
<rect x="1292.75" y="2350.58" width="104.16" height="33.34" fill="#b9dae8"/>
<rect x="1396.90" y="2350.58" width="104.16" height="33.34" fill="#bbdbe8"/>
<rect x="1501.06" y="2350.58" width="104.16" height="33.34" fill="#65accd"/>
<rect x="1605.22" y="2350.58" width="104.16" height="33.34" fill="#6cb0cf"/>
<rect x="1709.37" y="2350.58" width="104.16" height="33.34" fill="#7bb9d4"/>
<rect x="1813.53" y="2350.58" width="104.16" height="33.34" fill="#80bbd5"/>
<rect x="1917.68" y="2350.58" width="104.16" height="33.34" fill="#6aafce"/>
<rect x="2021.84" y="2350.58" width="104.16" height="33.34" fill="#a0cde0"/>
<rect x="2125.99" y="2350.58" width="104.16" height="33.34" fill="#b4d7e6"/>
<rect x="2230.14" y="2350.58" width="104.16" height="33.34" fill="#8ac1d9"/>
<rect x="251.20" y="2383.91" width="104.16" height="33.34" fill="#b4d7e6"/>
<rect x="355.36" y="2383.91" width="104.16" height="33.34" fill="#80bbd5"/>
<rect x="459.51" y="2383.91" width="104.16" height="33.34" fill="#7bb9d4"/>
<rect x="563.66" y="2383.91" width="104.16" height="33.34" fill="#67aecd"/>
<rect x="667.82" y="2383.91" width="104.16" height="33.34" fill="#78b7d3"/>
<rect x="771.97" y="2383.91" width="104.16" height="33.34" fill="#8cc2d9"/>
<rect x="876.13" y="2383.91" width="104.16" height="33.34" fill="#80bbd5"/>
<rect x="980.29" y="2383.91" width="104.16" height="33.34" fill="#91c5db"/>
<rect x="1084.44" y="2383.91" width="104.16" height="33.34" fill="#6eb2d0"/>
<rect x="1188.60" y="2383.91" width="104.16" height="33.34" fill="#73b5d1"/>
<rect x="1292.75" y="2383.91" width="104.16" height="33.34" fill="#bbdbe8"/>
<rect x="1396.90" y="2383.91" width="104.16" height="33.34" fill="#bbdbe8"/>
<rect x="1501.06" y="2383.91" width="104.16" height="33.34" fill="#73b5d1"/>
<rect x="1605.22" y="2383.91" width="104.16" height="33.34" fill="#7bb9d4"/>
<rect x="1709.37" y="2383.91" width="104.16" height="33.34" fill="#aad2e3"/>
<rect x="1813.53" y="2383.91" width="104.16" height="33.34" fill="#85bed7"/>
<rect x="1917.68" y="2383.91" width="104.16" height="33.34" fill="#76b6d2"/>
<rect x="2021.84" y="2383.91" width="104.16" height="33.34" fill="#a5cfe1"/>
<rect x="2125.99" y="2383.91" width="104.16" height="33.34" fill="#bbdbe8"/>
<rect x="2230.14" y="2383.91" width="104.16" height="33.34" fill="#8fc3da"/>
<rect x="251.20" y="2417.24" width="104.16" height="33.34" fill="#a0cde0"/>
<rect x="355.36" y="2417.24" width="104.16" height="33.34" fill="#b4d7e6"/>
<rect x="459.51" y="2417.24" width="104.16" height="33.34" fill="#a2cee0"/>
<rect x="563.66" y="2417.24" width="104.16" height="33.34" fill="#80bbd5"/>
<rect x="667.82" y="2417.24" width="104.16" height="33.34" fill="#b1d6e5"/>
<rect x="771.97" y="2417.24" width="104.16" height="33.34" fill="#bedde9"/>
<rect x="876.13" y="2417.24" width="104.16" height="33.34" fill="#7dbad5"/>
<rect x="980.29" y="2417.24" width="104.16" height="33.34" fill="#bedde9"/>
<rect x="1084.44" y="2417.24" width="104.16" height="33.34" fill="#85bed7"/>
<rect x="1188.60" y="2417.24" width="104.16" height="33.34" fill="#71b3d1"/>
<rect x="1292.75" y="2417.24" width="104.16" height="33.34" fill="#bedde9"/>
<rect x="1396.90" y="2417.24" width="104.16" height="33.34" fill="#9bcade"/>
<rect x="1501.06" y="2417.24" width="104.16" height="33.34" fill="#a7d1e2"/>
<rect x="1605.22" y="2417.24" width="104.16" height="33.34" fill="#94c6dc"/>
<rect x="1709.37" y="2417.24" width="104.16" height="33.34" fill="#78b7d3"/>
<rect x="1813.53" y="2417.24" width="104.16" height="33.34" fill="#73b5d1"/>
<rect x="1917.68" y="2417.24" width="104.16" height="33.34" fill="#73b5d1"/>
<rect x="2021.84" y="2417.24" width="104.16" height="33.34" fill="#87bfd8"/>
<rect x="2125.99" y="2417.24" width="104.16" height="33.34" fill="#9dcbdf"/>
<rect x="2230.14" y="2417.24" width="104.16" height="33.34" fill="#a7d1e2"/>
<rect x="251.20" y="2450.58" width="104.16" height="33.34" fill="#7bb9d4"/>
<rect x="355.36" y="2450.58" width="104.16" height="33.34" fill="#bedde9"/>
<rect x="459.51" y="2450.58" width="104.16" height="33.34" fill="#76b6d2"/>
<rect x="563.66" y="2450.58" width="104.16" height="33.34" fill="#80bbd5"/>
<rect x="667.82" y="2450.58" width="104.16" height="33.34" fill="#bedde9"/>
<rect x="771.97" y="2450.58" width="104.16" height="33.34" fill="#7dbad5"/>
<rect x="876.13" y="2450.58" width="104.16" height="33.34" fill="#7dbad5"/>
<rect x="980.29" y="2450.58" width="104.16" height="33.34" fill="#7bb9d4"/>
<rect x="1084.44" y="2450.58" width="104.16" height="33.34" fill="#bbdbe8"/>
<rect x="1188.60" y="2450.58" width="104.16" height="33.34" fill="#87bfd8"/>
<rect x="1292.75" y="2450.58" width="104.16" height="33.34" fill="#b6d9e7"/>
<rect x="1396.90" y="2450.58" width="104.16" height="33.34" fill="#b9dae8"/>
<rect x="1501.06" y="2450.58" width="104.16" height="33.34" fill="#85bed7"/>
<rect x="1605.22" y="2450.58" width="104.16" height="33.34" fill="#94c6dc"/>
<rect x="1709.37" y="2450.58" width="104.16" height="33.34" fill="#7dbad5"/>
<rect x="1813.53" y="2450.58" width="104.16" height="33.34" fill="#9bcade"/>
<rect x="1917.68" y="2450.58" width="104.16" height="33.34" fill="#9dcbdf"/>
<rect x="2021.84" y="2450.58" width="104.16" height="33.34" fill="#bbdbe8"/>
<rect x="2125.99" y="2450.58" width="104.16" height="33.34" fill="#80bbd5"/>
<rect x="2230.14" y="2450.58" width="104.16" height="33.34" fill="#94c6dc"/>
<rect x="251.20" y="2483.91" width="104.16" height="33.34" fill="#78b7d3"/>
<rect x="355.36" y="2483.91" width="104.16" height="33.34" fill="#78b7d3"/>
<rect x="459.51" y="2483.91" width="104.16" height="33.34" fill="#96c7dc"/>
<rect x="563.66" y="2483.91" width="104.16" height="33.34" fill="#78b7d3"/>
<rect x="667.82" y="2483.91" width="104.16" height="33.34" fill="#8fc3da"/>
<rect x="771.97" y="2483.91" width="104.16" height="33.34" fill="#71b3d1"/>
<rect x="876.13" y="2483.91" width="104.16" height="33.34" fill="#7bb9d4"/>
<rect x="980.29" y="2483.91" width="104.16" height="33.34" fill="#85bed7"/>
<rect x="1084.44" y="2483.91" width="104.16" height="33.34" fill="#80bbd5"/>
<rect x="1188.60" y="2483.91" width="104.16" height="33.34" fill="#7bb9d4"/>
<rect x="1292.75" y="2483.91" width="104.16" height="33.34" fill="#b1d6e5"/>
<rect x="1396.90" y="2483.91" width="104.16" height="33.34" fill="#a2cee0"/>
<rect x="1501.06" y="2483.91" width="104.16" height="33.34" fill="#82bdd6"/>
<rect x="1605.22" y="2483.91" width="104.16" height="33.34" fill="#8ac1d9"/>
<rect x="1709.37" y="2483.91" width="104.16" height="33.34" fill="#82bdd6"/>
<rect x="1813.53" y="2483.91" width="104.16" height="33.34" fill="#9dcbdf"/>
<rect x="1917.68" y="2483.91" width="104.16" height="33.34" fill="#98c9dd"/>
<rect x="2021.84" y="2483.91" width="104.16" height="33.34" fill="#a5cfe1"/>
<rect x="2125.99" y="2483.91" width="104.16" height="33.34" fill="#a0cde0"/>
<rect x="2230.14" y="2483.91" width="104.16" height="33.34" fill="#9bcade"/>
<path d="M249.70 17.12H2335.80M249.70 50.46H2335.80M249.70 83.80H2335.80M249.70 117.13H2335.80M249.70 150.47H2335.80M249.70 183.80H2335.80M249.70 217.13H2335.80M249.70 250.47H2335.80M249.70 283.81H2335.80M249.70 317.14H2335.80M249.70 350.48H2335.80M249.70 383.81H2335.80M249.70 417.14H2335.80M249.70 450.48H2335.80M249.70 483.81H2335.80M249.70 517.15H2335.80M249.70 550.49H2335.80M249.70 583.82H2335.80M249.70 617.15H2335.80M249.70 650.49H2335.80M249.70 683.83H2335.80M249.70 717.16H2335.80M249.70 750.50H2335.80M249.70 783.83H2335.80M249.70 817.16H2335.80M249.70 850.50H2335.80M249.70 883.84H2335.80M249.70 917.17H2335.80M249.70 950.50H2335.80M249.70 983.84H2335.80M249.70 1017.18H2335.80M249.70 1050.51H2335.80M249.70 1083.85H2335.80M249.70 1117.18H2335.80M249.70 1150.52H2335.80M249.70 1183.85H2335.80M249.70 1217.18H2335.80M249.70 1250.52H2335.80M249.70 1283.86H2335.80M249.70 1317.19H2335.80M249.70 1350.53H2335.80M249.70 1383.86H2335.80M249.70 1417.19H2335.80M249.70 1450.53H2335.80M249.70 1483.87H2335.80M249.70 1517.20H2335.80M249.70 1550.54H2335.80M249.70 1583.87H2335.80M249.70 1617.20H2335.80M249.70 1650.54H2335.80M249.70 1683.88H2335.80M249.70 1717.21H2335.80M249.70 1750.55H2335.80M249.70 1783.88H2335.80M249.70 1817.22H2335.80M249.70 1850.55H2335.80M249.70 1883.88H2335.80M249.70 1917.22H2335.80M249.70 1950.56H2335.80M249.70 1983.89H2335.80M249.70 2017.23H2335.80M249.70 2050.56H2335.80M249.70 2083.89H2335.80M249.70 2117.23H2335.80M249.70 2150.57H2335.80M249.70 2183.90H2335.80M249.70 2217.24H2335.80M249.70 2250.57H2335.80M249.70 2283.91H2335.80M249.70 2317.24H2335.80M249.70 2350.58H2335.80M249.70 2383.91H2335.80M249.70 2417.24H2335.80M249.70 2450.58H2335.80M249.70 2483.91H2335.80M249.70 2517.25H2335.80M251.20 15.62V2518.75M355.36 15.62V2518.75M459.51 15.62V2518.75M563.66 15.62V2518.75M667.82 15.62V2518.75M771.97 15.62V2518.75M876.13 15.62V2518.75M980.29 15.62V2518.75M1084.44 15.62V2518.75M1188.60 15.62V2518.75M1292.75 15.62V2518.75M1396.90 15.62V2518.75M1501.06 15.62V2518.75M1605.22 15.62V2518.75M1709.37 15.62V2518.75M1813.53 15.62V2518.75M1917.68 15.62V2518.75M2021.84 15.62V2518.75M2125.99 15.62V2518.75M2230.14 15.62V2518.75M2334.30 15.62V2518.75" stroke="#999999" stroke-width="3" fill="none"/>
<text x="2347.0" y="44.79" font-size="33.6">TRIDC1AG024860.2</text>
<text x="2347.0" y="78.13" font-size="33.6">TRIDC5BG004410.1</text>
<text x="2347.0" y="111.46" font-size="33.6">TRIDC5AG054470.1</text>
<text x="2347.0" y="144.80" font-size="33.6">TRIDC5BG058450.1</text>
<text x="2347.0" y="178.13" font-size="33.6">TRIDC1BG010820.2</text>
<text x="2347.0" y="211.47" font-size="33.6">TRIDC2BG075120.1</text>
<text x="2347.0" y="244.80" font-size="33.6">TRIDC1AG008830.2</text>
<text x="2347.0" y="278.14" font-size="33.6">TRIDC2AG069530.1</text>
<text x="2347.0" y="311.47" font-size="33.6">TRIDC3BG057100.1</text>
<text x="2347.0" y="344.81" font-size="33.6">TRIDC1AG052610.1</text>
<text x="2347.0" y="378.14" font-size="33.6">TRIDC1BG060210.1</text>
<text x="2347.0" y="411.48" font-size="33.6">TRIDC2AG020570.1</text>
<text x="2347.0" y="444.81" font-size="33.6">TRIDC2BG030990.1</text>
<text x="2347.0" y="478.15" font-size="33.6">TRIDC1BG029930.1</text>
<text x="2347.0" y="511.48" font-size="33.6">TRIDC3AG037650.2</text>
<text x="2347.0" y="544.82" font-size="33.6">TRIDC7AG023560.1</text>
<text x="2347.0" y="578.15" font-size="33.6">TRIDC7BG013960.8</text>
<text x="2347.0" y="611.49" font-size="33.6">TRIDC2BG060840.2</text>
<text x="2347.0" y="644.82" font-size="33.6">TRIDC5AG004240.1</text>
<text x="2347.0" y="678.16" font-size="33.6">TRIDC3AG013020.3</text>
<text x="2347.0" y="711.49" font-size="33.6">TRIDC3BG017470.1</text>
<text x="2347.0" y="744.83" font-size="33.6">TRIDC3BG069110.1</text>
<text x="2347.0" y="778.16" font-size="33.6">TRIDC5BG083600.2</text>
<text x="2347.0" y="811.50" font-size="33.6">TRIDC1AG043080.1</text>
<text x="2347.0" y="844.83" font-size="33.6">TRIDC1BG048890.1</text>
<text x="2347.0" y="878.17" font-size="33.6">TRIDC3AG031220.1</text>
<text x="2347.0" y="911.50" font-size="33.6">TRIDC3BG035770.1</text>
<text x="2347.0" y="944.84" font-size="33.6">TRIDC2AG026480.1</text>
<text x="2347.0" y="978.17" font-size="33.6">TRIDC2AG041070.1</text>
<text x="2347.0" y="1011.51" font-size="33.6">TRIDC3BG042060.2</text>
<text x="2347.0" y="1044.84" font-size="33.6">TRIDC5AG027050.1</text>
<text x="2347.0" y="1078.18" font-size="33.6">TRIDC2BG071680.2</text>
<text x="2347.0" y="1111.51" font-size="33.6">TRIDC5BG028170.2</text>
<text x="2347.0" y="1144.85" font-size="33.6">TRIDC2AG030810.1</text>
<text x="2347.0" y="1178.18" font-size="33.6">TRIDC5AG056480.2</text>
<text x="2347.0" y="1211.52" font-size="33.6">TRIDC3AG056770.1</text>
<text x="2347.0" y="1244.85" font-size="33.6">TRIDC5BG060520.1</text>
<text x="2347.0" y="1278.19" font-size="33.6">TRIDC4AG003930.1</text>
<text x="2347.0" y="1311.52" font-size="33.6">TRIDC4BG047850.1</text>
<text x="2347.0" y="1344.86" font-size="33.6">TRIDC3BG041470.1</text>
<text x="2347.0" y="1378.19" font-size="33.6">TRIDC3AG037260.1</text>
<text x="2347.0" y="1411.53" font-size="33.6">TRIDC2AG029560.2</text>
<text x="2347.0" y="1444.86" font-size="33.6">TRIDC2BG044040.3</text>
<text x="2347.0" y="1478.20" font-size="33.6">TRIDC5BG077670.1</text>
<text x="2347.0" y="1511.53" font-size="33.6">TRIDC1BG030570.1</text>
<text x="2347.0" y="1544.87" font-size="33.6">TRIDC6AG050350.1</text>
<text x="2347.0" y="1578.20" font-size="33.6">TRIDC1AG050530.2</text>
<text x="2347.0" y="1611.54" font-size="33.6">TRIDC1BG057340.2</text>
<text x="2347.0" y="1644.87" font-size="33.6">TRIDC3BG041640.1</text>
<text x="2347.0" y="1678.21" font-size="33.6">TRIDC5AG055240.2</text>
<text x="2347.0" y="1711.54" font-size="33.6">TRIDC5BG059240.2</text>
<text x="2347.0" y="1744.88" font-size="33.6">TRIDC6BG058920.1</text>
<text x="2347.0" y="1778.21" font-size="33.6">TRIDC2BG033270.2</text>
<text x="2347.0" y="1811.55" font-size="33.6">TRIDC1AG017640.1</text>
<text x="2347.0" y="1844.88" font-size="33.6">TRIDC3BG017740.1</text>
<text x="2347.0" y="1878.22" font-size="33.6">TRIDC1AG025490.2</text>
<text x="2347.0" y="1911.55" font-size="33.6">TRIDC3BG063640.1</text>
<text x="2347.0" y="1944.89" font-size="33.6">TRIDC5AG071510.1</text>
<text x="2347.0" y="1978.22" font-size="33.6">TRIDC4BG055440.1</text>
<text x="2347.0" y="2011.56" font-size="33.6">TRIDC3AG036340.1</text>
<text x="2347.0" y="2044.89" font-size="33.6">TRIDC3AG013280.1</text>
<text x="2347.0" y="2078.23" font-size="33.6">TRIDC1BG021520.1</text>
<text x="2347.0" y="2111.56" font-size="33.6">TRIDC2AG057940.1</text>
<text x="2347.0" y="2144.90" font-size="33.6">TRIDC6AG057880.1</text>
<text x="2347.0" y="2178.23" font-size="33.6">TRIDC6BG067570.1</text>
<text x="2347.0" y="2211.57" font-size="33.6">TRIDC3AG050730.2</text>
<text x="2347.0" y="2244.90" font-size="33.6">TRIDC5AG061620.1</text>
<text x="2347.0" y="2278.24" font-size="33.6">TRIDC5BG065680.1</text>
<text x="2347.0" y="2311.57" font-size="33.6">TRIDC7AG044430.1</text>
<text x="2347.0" y="2344.91" font-size="33.6">TRIDC7BG035770.1</text>
<text x="2347.0" y="2378.24" font-size="33.6">TRIDC4AG056040.1</text>
<text x="2347.0" y="2411.58" font-size="33.6">TRIDC4BG052240.1</text>
<text x="2347.0" y="2444.91" font-size="33.6">TRIDC3AG061340.1</text>
<text x="2347.0" y="2478.25" font-size="33.6">TRIDC2BG024500.2</text>
<text x="2347.0" y="2511.58" font-size="33.6">TRIDC2BG035110.3</text>
<text transform="translate(292.08,2530.1) rotate(90)" font-size="33.8">L008_DS_1cm</text>
<text transform="translate(396.23,2530.1) rotate(90)" font-size="33.8">L008_DS_1.5cm</text>
<text transform="translate(500.39,2530.1) rotate(90)" font-size="33.8">L008_DS_2cm</text>
<text transform="translate(604.54,2530.1) rotate(90)" font-size="33.8">L008_DS_2.5cm</text>
<text transform="translate(708.70,2530.1) rotate(90)" font-size="33.8">L008_DS_3cm</text>
<text transform="translate(812.85,2530.1) rotate(90)" font-size="33.8">L008_DS_3.5cm</text>
<text transform="translate(917.01,2530.1) rotate(90)" font-size="33.8">L008_DS_4.5cm</text>
<text transform="translate(1021.16,2530.1) rotate(90)" font-size="33.8">L008_DS_5cm</text>
<text transform="translate(1125.32,2530.1) rotate(90)" font-size="33.8">L008_DS_5.5cm</text>
<text transform="translate(1229.47,2530.1) rotate(90)" font-size="33.8">L008_Root_20days</text>
<text transform="translate(1333.63,2530.1) rotate(90)" font-size="33.8">L008_Leaf_54days</text>
<text transform="translate(1437.78,2530.1) rotate(90)" font-size="33.8">L008_Leaf_77days</text>
<text transform="translate(1541.94,2530.1) rotate(90)" font-size="33.8">L008_Flower_105days</text>
<text transform="translate(1646.09,2530.1) rotate(90)" font-size="33.8">L008_Flower_110days</text>
<text transform="translate(1750.25,2530.1) rotate(90)" font-size="33.8">L008_Flower_112days</text>
<text transform="translate(1854.40,2530.1) rotate(90)" font-size="33.8">L008_Glume_112days</text>
<text transform="translate(1958.56,2530.1) rotate(90)" font-size="33.8">L008_Lemma_112days</text>
<text transform="translate(2062.71,2530.1) rotate(90)" font-size="33.8">L008_Grain_123days</text>
<text transform="translate(2166.87,2530.1) rotate(90)" font-size="33.8">L008_Flagleaf_134days</text>
<text transform="translate(2271.02,2530.1) rotate(90)" font-size="33.8">L008_Grain_134days</text>
<defs><linearGradient id="lg" x1="0" y1="1" x2="0" y2="0"><stop offset="0" stop-color="#c0deea"/><stop offset="1" stop-color="#1883b4"/></linearGradient></defs>
<rect x="2686" y="17.2" width="42" height="624.5" fill="url(#lg)"/>
<text x="2745" y="654.4" font-size="33.8">0</text>
<text x="2745" y="562.7" font-size="33.8">1</text>
<text x="2745" y="471.1" font-size="33.8">2</text>
<text x="2745" y="379.4" font-size="33.8">3</text>
<text x="2745" y="287.7" font-size="33.8">4</text>
<text x="2745" y="196.0" font-size="33.8">5</text>
<text x="2745" y="104.4" font-size="33.8">6</text>
</svg></body></html>
